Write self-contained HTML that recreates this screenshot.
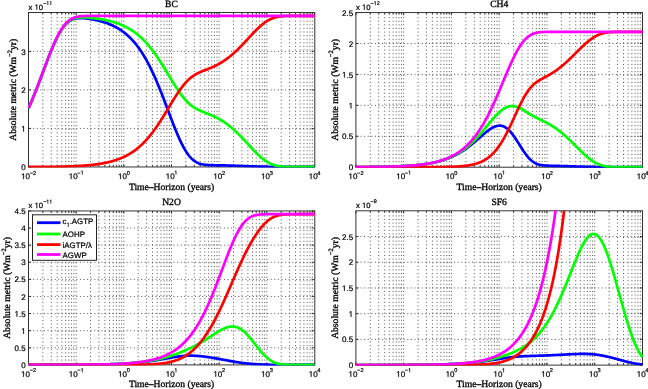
<!DOCTYPE html>
<html><head><meta charset="utf-8"><style>html,body{margin:0;padding:0;background:#fff;}svg{display:block}</style></head>
<body><svg width="648" height="389" viewBox="0 0 648 389" style="text-rendering:geometricPrecision;will-change:transform"><rect width="648" height="389" fill="#fff"/>
<g stroke="#444" stroke-width="0.9" stroke-dasharray="1 2.6"><line x1="42.85" y1="13.50" x2="42.85" y2="165.96"/><line x1="51.24" y1="13.50" x2="51.24" y2="165.96"/><line x1="57.20" y1="13.50" x2="57.20" y2="165.96"/><line x1="61.82" y1="13.50" x2="61.82" y2="165.96"/><line x1="65.59" y1="13.50" x2="65.59" y2="165.96"/><line x1="68.78" y1="13.50" x2="68.78" y2="165.96"/><line x1="71.55" y1="13.50" x2="71.55" y2="165.96"/><line x1="73.99" y1="13.50" x2="73.99" y2="165.96"/><line x1="76.17" y1="13.50" x2="76.17" y2="165.96"/><line x1="90.52" y1="13.50" x2="90.52" y2="165.96"/><line x1="98.91" y1="13.50" x2="98.91" y2="165.96"/><line x1="104.86" y1="13.50" x2="104.86" y2="165.96"/><line x1="109.48" y1="13.50" x2="109.48" y2="165.96"/><line x1="113.26" y1="13.50" x2="113.26" y2="165.96"/><line x1="116.45" y1="13.50" x2="116.45" y2="165.96"/><line x1="119.21" y1="13.50" x2="119.21" y2="165.96"/><line x1="121.65" y1="13.50" x2="121.65" y2="165.96"/><line x1="123.83" y1="13.50" x2="123.83" y2="165.96"/><line x1="138.18" y1="13.50" x2="138.18" y2="165.96"/><line x1="146.58" y1="13.50" x2="146.58" y2="165.96"/><line x1="152.53" y1="13.50" x2="152.53" y2="165.96"/><line x1="157.15" y1="13.50" x2="157.15" y2="165.96"/><line x1="160.93" y1="13.50" x2="160.93" y2="165.96"/><line x1="164.12" y1="13.50" x2="164.12" y2="165.96"/><line x1="166.88" y1="13.50" x2="166.88" y2="165.96"/><line x1="169.32" y1="13.50" x2="169.32" y2="165.96"/><line x1="171.50" y1="13.50" x2="171.50" y2="165.96"/><line x1="185.85" y1="13.50" x2="185.85" y2="165.96"/><line x1="194.24" y1="13.50" x2="194.24" y2="165.96"/><line x1="200.20" y1="13.50" x2="200.20" y2="165.96"/><line x1="204.82" y1="13.50" x2="204.82" y2="165.96"/><line x1="208.59" y1="13.50" x2="208.59" y2="165.96"/><line x1="211.78" y1="13.50" x2="211.78" y2="165.96"/><line x1="214.55" y1="13.50" x2="214.55" y2="165.96"/><line x1="216.99" y1="13.50" x2="216.99" y2="165.96"/><line x1="219.17" y1="13.50" x2="219.17" y2="165.96"/><line x1="233.52" y1="13.50" x2="233.52" y2="165.96"/><line x1="241.91" y1="13.50" x2="241.91" y2="165.96"/><line x1="247.86" y1="13.50" x2="247.86" y2="165.96"/><line x1="252.48" y1="13.50" x2="252.48" y2="165.96"/><line x1="256.26" y1="13.50" x2="256.26" y2="165.96"/><line x1="259.45" y1="13.50" x2="259.45" y2="165.96"/><line x1="262.21" y1="13.50" x2="262.21" y2="165.96"/><line x1="264.65" y1="13.50" x2="264.65" y2="165.96"/><line x1="266.83" y1="13.50" x2="266.83" y2="165.96"/><line x1="281.18" y1="13.50" x2="281.18" y2="165.96"/><line x1="289.58" y1="13.50" x2="289.58" y2="165.96"/><line x1="295.53" y1="13.50" x2="295.53" y2="165.96"/><line x1="300.15" y1="13.50" x2="300.15" y2="165.96"/><line x1="303.93" y1="13.50" x2="303.93" y2="165.96"/><line x1="307.12" y1="13.50" x2="307.12" y2="165.96"/><line x1="309.88" y1="13.50" x2="309.88" y2="165.96"/><line x1="312.32" y1="13.50" x2="312.32" y2="165.96"/><line x1="29.50" y1="128.44" x2="313.50" y2="128.44"/><line x1="29.50" y1="89.92" x2="313.50" y2="89.92"/><line x1="29.50" y1="51.40" x2="313.50" y2="51.40"/></g>
<path d="M28.50 166.96v-2.6M28.50 12.50v2.6M42.85 166.96v-1.6M42.85 12.50v1.6M51.24 166.96v-1.6M51.24 12.50v1.6M57.20 166.96v-1.6M57.20 12.50v1.6M61.82 166.96v-1.6M61.82 12.50v1.6M65.59 166.96v-1.6M65.59 12.50v1.6M68.78 166.96v-1.6M68.78 12.50v1.6M71.55 166.96v-1.6M71.55 12.50v1.6M73.99 166.96v-1.6M73.99 12.50v1.6M76.17 166.96v-2.6M76.17 12.50v2.6M90.52 166.96v-1.6M90.52 12.50v1.6M98.91 166.96v-1.6M98.91 12.50v1.6M104.86 166.96v-1.6M104.86 12.50v1.6M109.48 166.96v-1.6M109.48 12.50v1.6M113.26 166.96v-1.6M113.26 12.50v1.6M116.45 166.96v-1.6M116.45 12.50v1.6M119.21 166.96v-1.6M119.21 12.50v1.6M121.65 166.96v-1.6M121.65 12.50v1.6M123.83 166.96v-2.6M123.83 12.50v2.6M138.18 166.96v-1.6M138.18 12.50v1.6M146.58 166.96v-1.6M146.58 12.50v1.6M152.53 166.96v-1.6M152.53 12.50v1.6M157.15 166.96v-1.6M157.15 12.50v1.6M160.93 166.96v-1.6M160.93 12.50v1.6M164.12 166.96v-1.6M164.12 12.50v1.6M166.88 166.96v-1.6M166.88 12.50v1.6M169.32 166.96v-1.6M169.32 12.50v1.6M171.50 166.96v-2.6M171.50 12.50v2.6M185.85 166.96v-1.6M185.85 12.50v1.6M194.24 166.96v-1.6M194.24 12.50v1.6M200.20 166.96v-1.6M200.20 12.50v1.6M204.82 166.96v-1.6M204.82 12.50v1.6M208.59 166.96v-1.6M208.59 12.50v1.6M211.78 166.96v-1.6M211.78 12.50v1.6M214.55 166.96v-1.6M214.55 12.50v1.6M216.99 166.96v-1.6M216.99 12.50v1.6M219.17 166.96v-2.6M219.17 12.50v2.6M233.52 166.96v-1.6M233.52 12.50v1.6M241.91 166.96v-1.6M241.91 12.50v1.6M247.86 166.96v-1.6M247.86 12.50v1.6M252.48 166.96v-1.6M252.48 12.50v1.6M256.26 166.96v-1.6M256.26 12.50v1.6M259.45 166.96v-1.6M259.45 12.50v1.6M262.21 166.96v-1.6M262.21 12.50v1.6M264.65 166.96v-1.6M264.65 12.50v1.6M266.83 166.96v-2.6M266.83 12.50v2.6M281.18 166.96v-1.6M281.18 12.50v1.6M289.58 166.96v-1.6M289.58 12.50v1.6M295.53 166.96v-1.6M295.53 12.50v1.6M300.15 166.96v-1.6M300.15 12.50v1.6M303.93 166.96v-1.6M303.93 12.50v1.6M307.12 166.96v-1.6M307.12 12.50v1.6M309.88 166.96v-1.6M309.88 12.50v1.6M312.32 166.96v-1.6M312.32 12.50v1.6M314.50 166.96v-2.6M314.50 12.50v2.6M28.50 166.96h2.6M314.50 166.96h-2.6M28.50 128.44h2.6M314.50 128.44h-2.6M28.50 89.92h2.6M314.50 89.92h-2.6M28.50 51.40h2.6M314.50 51.40h-2.6" stroke="#222" stroke-width="0.9" fill="none"/>
<rect x="28.50" y="12.50" width="286.30" height="154.46" fill="none" stroke="#333" stroke-width="1"/>
<svg x="28.00" y="12.30" width="287.00" height="155.16" viewBox="28.00 12.30 287.00 155.16" overflow="hidden">
<polyline points="28.50,108.24 29.22,106.66 29.93,105.04 30.65,103.41 31.37,101.74 32.08,100.05 32.80,98.34 33.52,96.60 34.23,94.84 34.95,93.06 35.67,91.26 36.38,89.44 37.10,87.60 37.82,85.74 38.54,83.88 39.25,82.00 39.97,80.10 40.69,78.20 41.40,76.29 42.12,74.38 42.84,72.47 43.55,70.55 44.27,68.64 44.99,66.72 45.70,64.82 46.42,62.93 47.14,61.04 47.85,59.17 48.57,57.32 49.29,55.49 50.00,53.68 50.72,51.90 51.44,50.14 52.15,48.42 52.87,46.72 53.59,45.07 54.30,43.45 55.02,41.87 55.74,40.34 56.45,38.85 57.17,37.40 57.89,36.01 58.61,34.67 59.32,33.38 60.04,32.14 60.76,30.96 61.47,29.84 62.19,28.77 62.91,27.76 63.62,26.80 64.34,25.90 65.06,25.06 65.77,24.28 66.49,23.55 67.21,22.88 67.92,22.26 68.64,21.69 69.36,21.17 70.07,20.70 70.79,20.28 71.51,19.90 72.22,19.57 72.94,19.28 73.66,19.02 74.37,18.80 75.09,18.61 75.81,18.46 76.53,18.33 77.24,18.23 77.96,18.15 78.68,18.10 79.39,18.07 80.11,18.05 80.83,18.05 81.54,18.07 82.26,18.10 82.98,18.14 83.69,18.19 84.41,18.25 85.13,18.32 85.84,18.39 86.56,18.48 87.28,18.57 87.99,18.66 88.71,18.77 89.43,18.87 90.14,18.99 90.86,19.10 91.58,19.23 92.29,19.35 93.01,19.49 93.73,19.62 94.44,19.76 95.16,19.91 95.88,20.06 96.60,20.22 97.31,20.38 98.03,20.55 98.75,20.72 99.46,20.90 100.18,21.09 100.90,21.28 101.61,21.48 102.33,21.69 103.05,21.90 103.76,22.12 104.48,22.35 105.20,22.58 105.91,22.82 106.63,23.07 107.35,23.33 108.06,23.60 108.78,23.88 109.50,24.16 110.21,24.46 110.93,24.76 111.65,25.08 112.36,25.40 113.08,25.74 113.80,26.09 114.52,26.44 115.23,26.81 115.95,27.19 116.67,27.59 117.38,28.00 118.10,28.42 118.82,28.85 119.53,29.30 120.25,29.76 120.97,30.23 121.68,30.72 122.40,31.23 123.12,31.75 123.83,32.29 124.55,32.85 125.27,33.42 125.98,34.01 126.70,34.62 127.42,35.24 128.13,35.89 128.85,36.55 129.57,37.24 130.28,37.94 131.00,38.67 131.72,39.41 132.43,40.18 133.15,40.97 133.87,41.78 134.59,42.62 135.30,43.48 136.02,44.36 136.74,45.27 137.45,46.20 138.17,47.16 138.89,48.14 139.60,49.15 140.32,50.19 141.04,51.25 141.75,52.34 142.47,53.46 143.19,54.60 143.90,55.77 144.62,56.97 145.34,58.20 146.05,59.46 146.77,60.75 147.49,62.06 148.20,63.41 148.92,64.78 149.64,66.18 150.35,67.61 151.07,69.07 151.79,70.56 152.51,72.07 153.22,73.62 153.94,75.19 154.66,76.78 155.37,78.41 156.09,80.06 156.81,81.73 157.52,83.43 158.24,85.15 158.96,86.90 159.67,88.66 160.39,90.45 161.11,92.25 161.82,94.08 162.54,95.91 163.26,97.77 163.97,99.63 164.69,101.51 165.41,103.40 166.12,105.29 166.84,107.19 167.56,109.09 168.27,111.00 168.99,112.90 169.71,114.80 170.42,116.69 171.14,118.58 171.86,120.45 172.58,122.31 173.29,124.16 174.01,125.98 174.73,127.78 175.44,129.56 176.16,131.32 176.88,133.04 177.59,134.73 178.31,136.39 179.03,138.01 179.74,139.59 180.46,141.12 181.18,142.62 181.89,144.07 182.61,145.47 183.33,146.82 184.04,148.12 184.76,149.37 185.48,150.57 186.19,151.71 186.91,152.80 187.63,153.84 188.34,154.81 189.06,155.74 189.78,156.61 190.49,157.42 191.21,158.18 191.93,158.89 192.65,159.54 193.36,160.15 194.08,160.71 194.80,161.22 195.51,161.69 196.23,162.11 196.95,162.50 197.66,162.84 198.38,163.15 199.10,163.43 199.81,163.68 200.53,163.90 201.25,164.09 201.96,164.26 202.68,164.40 203.40,164.53 204.11,164.64 204.83,164.73 205.55,164.82 206.26,164.88 206.98,164.94 207.70,164.99 208.41,165.04 209.13,165.07 209.85,165.11 210.57,165.13 211.28,165.16 212.00,165.18 212.72,165.20 213.43,165.22 214.15,165.23 214.87,165.25 215.58,165.26 216.30,165.28 217.02,165.29 217.73,165.30 218.45,165.32 219.17,165.33 219.88,165.35 220.60,165.36 221.32,165.37 222.03,165.39 222.75,165.41 223.47,165.42 224.18,165.44 224.90,165.45 225.62,165.47 226.33,165.49 227.05,165.51 227.77,165.52 228.48,165.54 229.20,165.56 229.92,165.58 230.64,165.60 231.35,165.62 232.07,165.64 232.79,165.66 233.50,165.68 234.22,165.71 234.94,165.73 235.65,165.75 236.37,165.77 237.09,165.80 237.80,165.82 238.52,165.84 239.24,165.87 239.95,165.89 240.67,165.92 241.39,165.94 242.10,165.97 242.82,165.99 243.54,166.02 244.25,166.05 244.97,166.07 245.69,166.10 246.40,166.12 247.12,166.15 247.84,166.18 248.56,166.20 249.27,166.23 249.99,166.26 250.71,166.28 251.42,166.31 252.14,166.33 252.86,166.36 253.57,166.39 254.29,166.41 255.01,166.44 255.72,166.46 256.44,166.49 257.16,166.51 257.87,166.53 258.59,166.56 259.31,166.58 260.02,166.60 260.74,166.62 261.46,166.64 262.17,166.66 262.89,166.68 263.61,166.70 264.32,166.72 265.04,166.74 265.76,166.76 266.47,166.77 267.19,166.79 267.91,166.80 268.63,166.82 269.34,166.83 270.06,166.84 270.78,166.85 271.49,166.86 272.21,166.87 272.93,166.88 273.64,166.89 274.36,166.90 275.08,166.91 275.79,166.91 276.51,166.92 277.23,166.92 277.94,166.93 278.66,166.93 279.38,166.94 280.09,166.94 280.81,166.94 281.53,166.95 282.24,166.95 282.96,166.95 283.68,166.95 284.39,166.95 285.11,166.95 285.83,166.96 286.55,166.96 287.26,166.96 287.98,166.96 288.70,166.96 289.41,166.96 290.13,166.96 290.85,166.96 291.56,166.96 292.28,166.96 293.00,166.96 293.71,166.96 294.43,166.96 295.15,166.96 295.86,166.96 296.58,166.96 297.30,166.96 298.01,166.96 298.73,166.96 299.45,166.96 300.16,166.96 300.88,166.96 301.60,166.96 302.31,166.96 303.03,166.96 303.75,166.96 304.46,166.96 305.18,166.96 305.90,166.96 306.62,166.96 307.33,166.96 308.05,166.96 308.77,166.96 309.48,166.96 310.20,166.96 310.92,166.96 311.63,166.96 312.35,166.96 313.07,166.96 313.78,166.96 314.50,166.96" fill="none" stroke="#0000ff" stroke-width="2.7" stroke-linejoin="round"/>
<polyline points="28.50,108.23 29.22,106.64 29.93,105.03 30.65,103.39 31.37,101.72 32.08,100.03 32.80,98.32 33.52,96.58 34.23,94.81 34.95,93.03 35.67,91.23 36.38,89.41 37.10,87.57 37.82,85.71 38.54,83.84 39.25,81.96 39.97,80.06 40.69,78.16 41.40,76.25 42.12,74.33 42.84,72.42 43.55,70.50 44.27,68.58 44.99,66.66 45.70,64.76 46.42,62.86 47.14,60.97 47.85,59.10 48.57,57.24 49.29,55.41 50.00,53.59 50.72,51.80 51.44,50.04 52.15,48.31 52.87,46.61 53.59,44.95 54.30,43.32 55.02,41.74 55.74,40.20 56.45,38.70 57.17,37.25 57.89,35.85 58.61,34.50 59.32,33.20 60.04,31.95 60.76,30.76 61.47,29.63 62.19,28.55 62.91,27.52 63.62,26.56 64.34,25.65 65.06,24.79 65.77,24.00 66.49,23.25 67.21,22.57 67.92,21.93 68.64,21.35 69.36,20.81 70.07,20.33 70.79,19.89 71.51,19.49 72.22,19.14 72.94,18.83 73.66,18.55 74.37,18.31 75.09,18.10 75.81,17.92 76.53,17.77 77.24,17.65 77.96,17.55 78.68,17.47 79.39,17.41 80.11,17.36 80.83,17.33 81.54,17.32 82.26,17.32 82.98,17.32 83.69,17.34 84.41,17.37 85.13,17.40 85.84,17.44 86.56,17.49 87.28,17.54 87.99,17.60 88.71,17.66 89.43,17.72 90.14,17.79 90.86,17.86 91.58,17.93 92.29,18.01 93.01,18.09 93.73,18.17 94.44,18.26 95.16,18.35 95.88,18.44 96.60,18.54 97.31,18.64 98.03,18.74 98.75,18.85 99.46,18.96 100.18,19.07 100.90,19.19 101.61,19.31 102.33,19.44 103.05,19.57 103.76,19.70 104.48,19.84 105.20,19.98 105.91,20.13 106.63,20.28 107.35,20.44 108.06,20.61 108.78,20.78 109.50,20.95 110.21,21.13 110.93,21.32 111.65,21.51 112.36,21.71 113.08,21.92 113.80,22.13 114.52,22.35 115.23,22.57 115.95,22.81 116.67,23.05 117.38,23.30 118.10,23.56 118.82,23.82 119.53,24.10 120.25,24.38 120.97,24.67 121.68,24.97 122.40,25.28 123.12,25.60 123.83,25.93 124.55,26.27 125.27,26.62 125.98,26.98 126.70,27.36 127.42,27.74 128.13,28.14 128.85,28.54 129.57,28.96 130.28,29.39 131.00,29.84 131.72,30.30 132.43,30.77 133.15,31.25 133.87,31.75 134.59,32.26 135.30,32.79 136.02,33.33 136.74,33.89 137.45,34.46 138.17,35.05 138.89,35.65 139.60,36.27 140.32,36.91 141.04,37.56 141.75,38.23 142.47,38.92 143.19,39.62 143.90,40.34 144.62,41.08 145.34,41.84 146.05,42.61 146.77,43.40 147.49,44.21 148.20,45.04 148.92,45.88 149.64,46.75 150.35,47.63 151.07,48.53 151.79,49.44 152.51,50.38 153.22,51.33 153.94,52.30 154.66,53.28 155.37,54.29 156.09,55.31 156.81,56.34 157.52,57.39 158.24,58.46 158.96,59.54 159.67,60.63 160.39,61.74 161.11,62.86 161.82,63.99 162.54,65.13 163.26,66.28 163.97,67.44 164.69,68.61 165.41,69.78 166.12,70.96 166.84,72.15 167.56,73.34 168.27,74.53 168.99,75.72 169.71,76.91 170.42,78.10 171.14,79.29 171.86,80.47 172.58,81.64 173.29,82.81 174.01,83.96 174.73,85.11 175.44,86.24 176.16,87.36 176.88,88.46 177.59,89.55 178.31,90.61 179.03,91.66 179.74,92.68 180.46,93.69 181.18,94.67 181.89,95.62 182.61,96.55 183.33,97.45 184.04,98.32 184.76,99.17 185.48,99.98 186.19,100.77 186.91,101.52 187.63,102.25 188.34,102.95 189.06,103.61 189.78,104.25 190.49,104.86 191.21,105.44 191.93,105.99 192.65,106.52 193.36,107.02 194.08,107.49 194.80,107.95 195.51,108.37 196.23,108.78 196.95,109.17 197.66,109.54 198.38,109.90 199.10,110.24 199.81,110.56 200.53,110.88 201.25,111.18 201.96,111.48 202.68,111.77 203.40,112.05 204.11,112.34 204.83,112.61 205.55,112.89 206.26,113.17 206.98,113.44 207.70,113.72 208.41,114.01 209.13,114.29 209.85,114.58 210.57,114.88 211.28,115.18 212.00,115.49 212.72,115.81 213.43,116.14 214.15,116.47 214.87,116.81 215.58,117.16 216.30,117.52 217.02,117.89 217.73,118.27 218.45,118.66 219.17,119.06 219.88,119.47 220.60,119.89 221.32,120.33 222.03,120.77 222.75,121.22 223.47,121.69 224.18,122.17 224.90,122.65 225.62,123.15 226.33,123.67 227.05,124.19 227.77,124.72 228.48,125.27 229.20,125.83 229.92,126.40 230.64,126.98 231.35,127.58 232.07,128.18 232.79,128.80 233.50,129.43 234.22,130.07 234.94,130.72 235.65,131.38 236.37,132.05 237.09,132.74 237.80,133.43 238.52,134.13 239.24,134.84 239.95,135.56 240.67,136.29 241.39,137.03 242.10,137.77 242.82,138.52 243.54,139.28 244.25,140.04 244.97,140.81 245.69,141.58 246.40,142.35 247.12,143.13 247.84,143.91 248.56,144.69 249.27,145.47 249.99,146.24 250.71,147.02 251.42,147.79 252.14,148.56 252.86,149.32 253.57,150.08 254.29,150.82 255.01,151.56 255.72,152.29 256.44,153.01 257.16,153.72 257.87,154.42 258.59,155.10 259.31,155.76 260.02,156.41 260.74,157.05 261.46,157.66 262.17,158.26 262.89,158.84 263.61,159.39 264.32,159.93 265.04,160.45 265.76,160.94 266.47,161.41 267.19,161.86 267.91,162.29 268.63,162.69 269.34,163.08 270.06,163.44 270.78,163.77 271.49,164.09 272.21,164.38 272.93,164.65 273.64,164.91 274.36,165.14 275.08,165.35 275.79,165.54 276.51,165.72 277.23,165.88 277.94,166.02 278.66,166.15 279.38,166.26 280.09,166.37 280.81,166.46 281.53,166.53 282.24,166.60 282.96,166.66 283.68,166.71 284.39,166.76 285.11,166.79 285.83,166.82 286.55,166.85 287.26,166.87 287.98,166.89 288.70,166.91 289.41,166.92 290.13,166.93 290.85,166.93 291.56,166.94 292.28,166.95 293.00,166.95 293.71,166.95 294.43,166.95 295.15,166.96 295.86,166.96 296.58,166.96 297.30,166.96 298.01,166.96 298.73,166.96 299.45,166.96 300.16,166.96 300.88,166.96 301.60,166.96 302.31,166.96 303.03,166.96 303.75,166.96 304.46,166.96 305.18,166.96 305.90,166.96 306.62,166.96 307.33,166.96 308.05,166.96 308.77,166.96 309.48,166.96 310.20,166.96 310.92,166.96 311.63,166.96 312.35,166.96 313.07,166.96 313.78,166.96 314.50,166.96" fill="none" stroke="#00ff00" stroke-width="2.7" stroke-linejoin="round"/>
<polyline points="28.50,166.94 29.22,166.94 29.93,166.93 30.65,166.93 31.37,166.93 32.08,166.93 32.80,166.93 33.52,166.92 34.23,166.92 34.95,166.92 35.67,166.92 36.38,166.91 37.10,166.91 37.82,166.91 38.54,166.91 39.25,166.90 39.97,166.90 40.69,166.89 41.40,166.89 42.12,166.89 42.84,166.88 43.55,166.88 44.27,166.87 44.99,166.87 45.70,166.86 46.42,166.85 47.14,166.85 47.85,166.84 48.57,166.83 49.29,166.83 50.00,166.82 50.72,166.81 51.44,166.80 52.15,166.79 52.87,166.78 53.59,166.77 54.30,166.76 55.02,166.75 55.74,166.74 56.45,166.73 57.17,166.72 57.89,166.70 58.61,166.69 59.32,166.68 60.04,166.66 60.76,166.64 61.47,166.63 62.19,166.61 62.91,166.59 63.62,166.57 64.34,166.55 65.06,166.53 65.77,166.51 66.49,166.49 67.21,166.47 67.92,166.44 68.64,166.42 69.36,166.39 70.07,166.37 70.79,166.34 71.51,166.31 72.22,166.28 72.94,166.25 73.66,166.22 74.37,166.19 75.09,166.15 75.81,166.12 76.53,166.08 77.24,166.04 77.96,166.00 78.68,165.96 79.39,165.92 80.11,165.87 80.83,165.83 81.54,165.78 82.26,165.73 82.98,165.68 83.69,165.63 84.41,165.57 85.13,165.52 85.84,165.46 86.56,165.40 87.28,165.34 87.99,165.27 88.71,165.21 89.43,165.14 90.14,165.07 90.86,164.99 91.58,164.92 92.29,164.84 93.01,164.76 93.73,164.67 94.44,164.59 95.16,164.50 95.88,164.40 96.60,164.31 97.31,164.21 98.03,164.10 98.75,164.00 99.46,163.89 100.18,163.77 100.90,163.66 101.61,163.53 102.33,163.41 103.05,163.28 103.76,163.14 104.48,163.01 105.20,162.86 105.91,162.71 106.63,162.56 107.35,162.40 108.06,162.24 108.78,162.07 109.50,161.89 110.21,161.71 110.93,161.53 111.65,161.33 112.36,161.13 113.08,160.93 113.80,160.72 114.52,160.50 115.23,160.27 115.95,160.04 116.67,159.79 117.38,159.55 118.10,159.29 118.82,159.02 119.53,158.75 120.25,158.47 120.97,158.17 121.68,157.87 122.40,157.56 123.12,157.24 123.83,156.91 124.55,156.57 125.27,156.22 125.98,155.86 126.70,155.49 127.42,155.10 128.13,154.71 128.85,154.30 129.57,153.88 130.28,153.45 131.00,153.01 131.72,152.55 132.43,152.08 133.15,151.59 133.87,151.09 134.59,150.58 135.30,150.05 136.02,149.51 136.74,148.95 137.45,148.38 138.17,147.79 138.89,147.19 139.60,146.57 140.32,145.93 141.04,145.28 141.75,144.61 142.47,143.93 143.19,143.22 143.90,142.50 144.62,141.76 145.34,141.01 146.05,140.23 146.77,139.44 147.49,138.63 148.20,137.81 148.92,136.96 149.64,136.10 150.35,135.22 151.07,134.32 151.79,133.40 152.51,132.47 153.22,131.52 153.94,130.55 154.66,129.56 155.37,128.56 156.09,127.54 156.81,126.50 157.52,125.45 158.24,124.39 158.96,123.31 159.67,122.22 160.39,121.11 161.11,119.99 161.82,118.86 162.54,117.72 163.26,116.57 163.97,115.41 164.69,114.24 165.41,113.06 166.12,111.88 166.84,110.70 167.56,109.51 168.27,108.32 168.99,107.12 169.71,105.93 170.42,104.74 171.14,103.56 171.86,102.38 172.58,101.20 173.29,100.04 174.01,98.88 174.73,97.74 175.44,96.60 176.16,95.49 176.88,94.38 177.59,93.30 178.31,92.23 179.03,91.19 179.74,90.16 180.46,89.16 181.18,88.18 181.89,87.22 182.61,86.30 183.33,85.40 184.04,84.52 184.76,83.68 185.48,82.86 186.19,82.08 186.91,81.32 187.63,80.59 188.34,79.90 189.06,79.23 189.78,78.59 190.49,77.98 191.21,77.40 191.93,76.85 192.65,76.33 193.36,75.83 194.08,75.35 194.80,74.90 195.51,74.47 196.23,74.06 196.95,73.67 197.66,73.30 198.38,72.95 199.10,72.61 199.81,72.28 200.53,71.97 201.25,71.66 201.96,71.36 202.68,71.07 203.40,70.79 204.11,70.51 204.83,70.23 205.55,69.95 206.26,69.68 206.98,69.40 207.70,69.12 208.41,68.84 209.13,68.55 209.85,68.26 210.57,67.96 211.28,67.66 212.00,67.35 212.72,67.03 213.43,66.71 214.15,66.37 214.87,66.03 215.58,65.68 216.30,65.32 217.02,64.95 217.73,64.57 218.45,64.18 219.17,63.78 219.88,63.37 220.60,62.95 221.32,62.52 222.03,62.08 222.75,61.62 223.47,61.16 224.18,60.68 224.90,60.19 225.62,59.69 226.33,59.18 227.05,58.66 227.77,58.12 228.48,57.57 229.20,57.01 229.92,56.44 230.64,55.86 231.35,55.27 232.07,54.66 232.79,54.04 233.50,53.42 234.22,52.78 234.94,52.12 235.65,51.46 236.37,50.79 237.09,50.11 237.80,49.42 238.52,48.71 239.24,48.00 239.95,47.28 240.67,46.55 241.39,45.82 242.10,45.07 242.82,44.32 243.54,43.56 244.25,42.80 244.97,42.04 245.69,41.26 246.40,40.49 247.12,39.71 247.84,38.94 248.56,38.16 249.27,37.38 249.99,36.60 250.71,35.83 251.42,35.05 252.14,34.29 252.86,33.52 253.57,32.77 254.29,32.02 255.01,31.28 255.72,30.55 256.44,29.83 257.16,29.12 257.87,28.43 258.59,27.75 259.31,27.08 260.02,26.43 260.74,25.80 261.46,25.18 262.17,24.59 262.89,24.01 263.61,23.45 264.32,22.91 265.04,22.40 265.76,21.90 266.47,21.43 267.19,20.98 267.91,20.55 268.63,20.15 269.34,19.77 270.06,19.41 270.78,19.07 271.49,18.76 272.21,18.46 272.93,18.19 273.64,17.94 274.36,17.71 275.08,17.50 275.79,17.30 276.51,17.13 277.23,16.97 277.94,16.82 278.66,16.69 279.38,16.58 280.09,16.48 280.81,16.39 281.53,16.31 282.24,16.24 282.96,16.18 283.68,16.13 284.39,16.09 285.11,16.05 285.83,16.02 286.55,15.99 287.26,15.97 287.98,15.95 288.70,15.94 289.41,15.93 290.13,15.92 290.85,15.91 291.56,15.90 292.28,15.90 293.00,15.90 293.71,15.89 294.43,15.89 295.15,15.89 295.86,15.89 296.58,15.89 297.30,15.89 298.01,15.89 298.73,15.89 299.45,15.89 300.16,15.88 300.88,15.88 301.60,15.88 302.31,15.88 303.03,15.88 303.75,15.88 304.46,15.88 305.18,15.88 305.90,15.88 306.62,15.88 307.33,15.88 308.05,15.88 308.77,15.88 309.48,15.88 310.20,15.88 310.92,15.88 311.63,15.88 312.35,15.88 313.07,15.88 313.78,15.88 314.50,15.88" fill="none" stroke="#ff0000" stroke-width="2.7" stroke-linejoin="round"/>
<polyline points="28.50,108.21 29.22,106.62 29.93,105.00 30.65,103.36 31.37,101.69 32.08,100.00 32.80,98.28 33.52,96.54 34.23,94.78 34.95,92.99 35.67,91.19 36.38,89.36 37.10,87.52 37.82,85.66 38.54,83.79 39.25,81.90 39.97,80.00 40.69,78.10 41.40,76.18 42.12,74.26 42.84,72.34 43.55,70.41 44.27,68.49 44.99,66.57 45.70,64.66 46.42,62.75 47.14,60.86 47.85,58.98 48.57,57.12 49.29,55.27 50.00,53.45 50.72,51.65 51.44,49.88 52.15,48.14 52.87,46.43 53.59,44.76 54.30,43.13 55.02,41.53 55.74,39.98 56.45,38.47 57.17,37.01 57.89,35.59 58.61,34.23 59.32,32.91 60.04,31.65 60.76,30.45 61.47,29.29 62.19,28.20 62.91,27.16 63.62,26.17 64.34,25.24 65.06,24.37 65.77,23.55 66.49,22.79 67.21,22.08 67.92,21.42 68.64,20.81 69.36,20.25 70.07,19.74 70.79,19.27 71.51,18.84 72.22,18.46 72.94,18.12 73.66,17.81 74.37,17.54 75.09,17.29 75.81,17.08 76.53,16.89 77.24,16.73 77.96,16.59 78.68,16.47 79.39,16.36 80.11,16.28 80.83,16.20 81.54,16.14 82.26,16.09 82.98,16.05 83.69,16.01 84.41,15.98 85.13,15.96 85.84,15.94 86.56,15.93 87.28,15.92 87.99,15.91 88.71,15.90 89.43,15.90 90.14,15.89 90.86,15.89 91.58,15.89 92.29,15.89 93.01,15.89 93.73,15.89 94.44,15.89 95.16,15.89 95.88,15.88 96.60,15.88 97.31,15.88 98.03,15.88 98.75,15.88 99.46,15.88 100.18,15.88 100.90,15.88 101.61,15.88 102.33,15.88 103.05,15.88 103.76,15.88 104.48,15.88 105.20,15.88 105.91,15.88 106.63,15.88 107.35,15.88 108.06,15.88 108.78,15.88 109.50,15.88 110.21,15.88 110.93,15.88 111.65,15.88 112.36,15.88 113.08,15.88 113.80,15.88 114.52,15.88 115.23,15.88 115.95,15.88 116.67,15.88 117.38,15.88 118.10,15.88 118.82,15.88 119.53,15.88 120.25,15.88 120.97,15.88 121.68,15.88 122.40,15.88 123.12,15.88 123.83,15.88 124.55,15.88 125.27,15.88 125.98,15.88 126.70,15.88 127.42,15.88 128.13,15.88 128.85,15.88 129.57,15.88 130.28,15.88 131.00,15.88 131.72,15.88 132.43,15.88 133.15,15.88 133.87,15.88 134.59,15.88 135.30,15.88 136.02,15.88 136.74,15.88 137.45,15.88 138.17,15.88 138.89,15.88 139.60,15.88 140.32,15.88 141.04,15.88 141.75,15.88 142.47,15.88 143.19,15.88 143.90,15.88 144.62,15.88 145.34,15.88 146.05,15.88 146.77,15.88 147.49,15.88 148.20,15.88 148.92,15.88 149.64,15.88 150.35,15.88 151.07,15.88 151.79,15.88 152.51,15.88 153.22,15.88 153.94,15.88 154.66,15.88 155.37,15.88 156.09,15.88 156.81,15.88 157.52,15.88 158.24,15.88 158.96,15.88 159.67,15.88 160.39,15.88 161.11,15.88 161.82,15.88 162.54,15.88 163.26,15.88 163.97,15.88 164.69,15.88 165.41,15.88 166.12,15.88 166.84,15.88 167.56,15.88 168.27,15.88 168.99,15.88 169.71,15.88 170.42,15.88 171.14,15.88 171.86,15.88 172.58,15.88 173.29,15.88 174.01,15.88 174.73,15.88 175.44,15.88 176.16,15.88 176.88,15.88 177.59,15.88 178.31,15.88 179.03,15.88 179.74,15.88 180.46,15.88 181.18,15.88 181.89,15.88 182.61,15.88 183.33,15.88 184.04,15.88 184.76,15.88 185.48,15.88 186.19,15.88 186.91,15.88 187.63,15.88 188.34,15.88 189.06,15.88 189.78,15.88 190.49,15.88 191.21,15.88 191.93,15.88 192.65,15.88 193.36,15.88 194.08,15.88 194.80,15.88 195.51,15.88 196.23,15.88 196.95,15.88 197.66,15.88 198.38,15.88 199.10,15.88 199.81,15.88 200.53,15.88 201.25,15.88 201.96,15.88 202.68,15.88 203.40,15.88 204.11,15.88 204.83,15.88 205.55,15.88 206.26,15.88 206.98,15.88 207.70,15.88 208.41,15.88 209.13,15.88 209.85,15.88 210.57,15.88 211.28,15.88 212.00,15.88 212.72,15.88 213.43,15.88 214.15,15.88 214.87,15.88 215.58,15.88 216.30,15.88 217.02,15.88 217.73,15.88 218.45,15.88 219.17,15.88 219.88,15.88 220.60,15.88 221.32,15.88 222.03,15.88 222.75,15.88 223.47,15.88 224.18,15.88 224.90,15.88 225.62,15.88 226.33,15.88 227.05,15.88 227.77,15.88 228.48,15.88 229.20,15.88 229.92,15.88 230.64,15.88 231.35,15.88 232.07,15.88 232.79,15.88 233.50,15.88 234.22,15.88 234.94,15.88 235.65,15.88 236.37,15.88 237.09,15.88 237.80,15.88 238.52,15.88 239.24,15.88 239.95,15.88 240.67,15.88 241.39,15.88 242.10,15.88 242.82,15.88 243.54,15.88 244.25,15.88 244.97,15.88 245.69,15.88 246.40,15.88 247.12,15.88 247.84,15.88 248.56,15.88 249.27,15.88 249.99,15.88 250.71,15.88 251.42,15.88 252.14,15.88 252.86,15.88 253.57,15.88 254.29,15.88 255.01,15.88 255.72,15.88 256.44,15.88 257.16,15.88 257.87,15.88 258.59,15.88 259.31,15.88 260.02,15.88 260.74,15.88 261.46,15.88 262.17,15.88 262.89,15.88 263.61,15.88 264.32,15.88 265.04,15.88 265.76,15.88 266.47,15.88 267.19,15.88 267.91,15.88 268.63,15.88 269.34,15.88 270.06,15.88 270.78,15.88 271.49,15.88 272.21,15.88 272.93,15.88 273.64,15.88 274.36,15.88 275.08,15.88 275.79,15.88 276.51,15.88 277.23,15.88 277.94,15.88 278.66,15.88 279.38,15.88 280.09,15.88 280.81,15.88 281.53,15.88 282.24,15.88 282.96,15.88 283.68,15.88 284.39,15.88 285.11,15.88 285.83,15.88 286.55,15.88 287.26,15.88 287.98,15.88 288.70,15.88 289.41,15.88 290.13,15.88 290.85,15.88 291.56,15.88 292.28,15.88 293.00,15.88 293.71,15.88 294.43,15.88 295.15,15.88 295.86,15.88 296.58,15.88 297.30,15.88 298.01,15.88 298.73,15.88 299.45,15.88 300.16,15.88 300.88,15.88 301.60,15.88 302.31,15.88 303.03,15.88 303.75,15.88 304.46,15.88 305.18,15.88 305.90,15.88 306.62,15.88 307.33,15.88 308.05,15.88 308.77,15.88 309.48,15.88 310.20,15.88 310.92,15.88 311.63,15.88 312.35,15.88 313.07,15.88 313.78,15.88 314.50,15.88" fill="none" stroke="#ff00ff" stroke-width="2.7" stroke-linejoin="round"/>
</svg>
<text x="21.11" y="179.10" style="font-family:&quot;Liberation Sans&quot;,sans-serif;stroke:#000;stroke-width:0.22px;font-size:8.00px"> 0</text><path transform="translate(21.11 179.10) scale(0.003906 -0.003906)" d="M515 0V1237L197 1010V1180L530 1409H696V0Z" stroke="#000" stroke-width="56.3"/><text x="29.71" y="174.50" style="font-family:&quot;Liberation Sans&quot;,sans-serif;stroke:#000;stroke-width:0.22px;font-size:5.60px">−2</text>
<text x="68.78" y="179.10" style="font-family:&quot;Liberation Sans&quot;,sans-serif;stroke:#000;stroke-width:0.22px;font-size:8.00px"> 0</text><path transform="translate(68.78 179.10) scale(0.003906 -0.003906)" d="M515 0V1237L197 1010V1180L530 1409H696V0Z" stroke="#000" stroke-width="56.3"/><text x="77.37" y="174.50" style="font-family:&quot;Liberation Sans&quot;,sans-serif;stroke:#000;stroke-width:0.22px;font-size:5.60px">− </text><path transform="translate(80.64 174.50) scale(0.002734 -0.002734)" d="M515 0V1237L197 1010V1180L530 1409H696V0Z" stroke="#000" stroke-width="80.5"/>
<text x="118.08" y="179.10" style="font-family:&quot;Liberation Sans&quot;,sans-serif;stroke:#000;stroke-width:0.22px;font-size:8.00px"> 0</text><path transform="translate(118.08 179.10) scale(0.003906 -0.003906)" d="M515 0V1237L197 1010V1180L530 1409H696V0Z" stroke="#000" stroke-width="56.3"/><text x="126.68" y="174.50" style="font-family:&quot;Liberation Sans&quot;,sans-serif;stroke:#000;stroke-width:0.22px;font-size:5.60px">0</text>
<text x="165.74" y="179.10" style="font-family:&quot;Liberation Sans&quot;,sans-serif;stroke:#000;stroke-width:0.22px;font-size:8.00px"> 0</text><path transform="translate(165.74 179.10) scale(0.003906 -0.003906)" d="M515 0V1237L197 1010V1180L530 1409H696V0Z" stroke="#000" stroke-width="56.3"/><path transform="translate(174.34 174.50) scale(0.002734 -0.002734)" d="M515 0V1237L197 1010V1180L530 1409H696V0Z" stroke="#000" stroke-width="80.5"/>
<text x="213.41" y="179.10" style="font-family:&quot;Liberation Sans&quot;,sans-serif;stroke:#000;stroke-width:0.22px;font-size:8.00px"> 0</text><path transform="translate(213.41 179.10) scale(0.003906 -0.003906)" d="M515 0V1237L197 1010V1180L530 1409H696V0Z" stroke="#000" stroke-width="56.3"/><text x="222.01" y="174.50" style="font-family:&quot;Liberation Sans&quot;,sans-serif;stroke:#000;stroke-width:0.22px;font-size:5.60px">2</text>
<text x="261.08" y="179.10" style="font-family:&quot;Liberation Sans&quot;,sans-serif;stroke:#000;stroke-width:0.22px;font-size:8.00px"> 0</text><path transform="translate(261.08 179.10) scale(0.003906 -0.003906)" d="M515 0V1237L197 1010V1180L530 1409H696V0Z" stroke="#000" stroke-width="56.3"/><text x="269.68" y="174.50" style="font-family:&quot;Liberation Sans&quot;,sans-serif;stroke:#000;stroke-width:0.22px;font-size:5.60px">3</text>
<text x="308.74" y="179.10" style="font-family:&quot;Liberation Sans&quot;,sans-serif;stroke:#000;stroke-width:0.22px;font-size:8.00px"> 0</text><path transform="translate(308.74 179.10) scale(0.003906 -0.003906)" d="M515 0V1237L197 1010V1180L530 1409H696V0Z" stroke="#000" stroke-width="56.3"/><text x="317.34" y="174.50" style="font-family:&quot;Liberation Sans&quot;,sans-serif;stroke:#000;stroke-width:0.22px;font-size:5.60px">4</text>
<text x="21.25" y="170.06" style="font-family:&quot;Liberation Sans&quot;,sans-serif;stroke:#000;stroke-width:0.22px;font-size:8.00px">0</text>
<path transform="translate(21.25 131.54) scale(0.003906 -0.003906)" d="M515 0V1237L197 1010V1180L530 1409H696V0Z" stroke="#000" stroke-width="56.3"/>
<text x="21.25" y="93.02" style="font-family:&quot;Liberation Sans&quot;,sans-serif;stroke:#000;stroke-width:0.22px;font-size:8.00px">2</text>
<text x="21.25" y="54.50" style="font-family:&quot;Liberation Sans&quot;,sans-serif;stroke:#000;stroke-width:0.22px;font-size:8.00px">3</text>
<text x="28.60" y="9.70" style="font-family:&quot;Liberation Sans&quot;,sans-serif;stroke:#000;stroke-width:0.22px;font-size:7.70px">x  0</text><path transform="translate(34.59 9.70) scale(0.003760 -0.003760)" d="M515 0V1237L197 1010V1180L530 1409H696V0Z" stroke="#000" stroke-width="58.5"/><text x="43.15" y="5.00" style="font-family:&quot;Liberation Sans&quot;,sans-serif;stroke:#000;stroke-width:0.22px;font-size:5.40px">−  </text><path transform="translate(46.31 5.00) scale(0.002637 -0.002637)" d="M515 0V1237L197 1010V1180L530 1409H696V0Z" stroke="#000" stroke-width="83.4"/><path transform="translate(49.31 5.00) scale(0.002637 -0.002637)" d="M515 0V1237L197 1010V1180L530 1409H696V0Z" stroke="#000" stroke-width="83.4"/>
<text x="171.50" y="6.50" text-anchor="middle" style="font-family:&quot;Liberation Serif&quot;,serif;stroke:#000;stroke-width:0.32px;font-size:9.6px">BC</text>
<text x="171.50" y="189.70" text-anchor="middle" style="font-family:&quot;Liberation Serif&quot;,serif;stroke:#000;stroke-width:0.32px;font-size:9.6px">Time–Horizon (years)</text>
<text transform="translate(15.90 89.73) rotate(-90)" text-anchor="middle" style="font-family:&quot;Liberation Serif&quot;,serif;stroke:#000;stroke-width:0.32px;font-size:9.6px">Absolute metric (Wm<tspan dy="-4.1" style="font-size:6.6px">−2</tspan><tspan dy="4.1">yr)</tspan></text>
<g stroke="#444" stroke-width="0.9" stroke-dasharray="1 2.6"><line x1="370.28" y1="13.57" x2="370.28" y2="166.20"/><line x1="378.69" y1="13.57" x2="378.69" y2="166.20"/><line x1="384.66" y1="13.57" x2="384.66" y2="166.20"/><line x1="389.29" y1="13.57" x2="389.29" y2="166.20"/><line x1="393.07" y1="13.57" x2="393.07" y2="166.20"/><line x1="396.27" y1="13.57" x2="396.27" y2="166.20"/><line x1="399.04" y1="13.57" x2="399.04" y2="166.20"/><line x1="401.48" y1="13.57" x2="401.48" y2="166.20"/><line x1="403.67" y1="13.57" x2="403.67" y2="166.20"/><line x1="418.05" y1="13.57" x2="418.05" y2="166.20"/><line x1="426.46" y1="13.57" x2="426.46" y2="166.20"/><line x1="432.43" y1="13.57" x2="432.43" y2="166.20"/><line x1="437.05" y1="13.57" x2="437.05" y2="166.20"/><line x1="440.84" y1="13.57" x2="440.84" y2="166.20"/><line x1="444.03" y1="13.57" x2="444.03" y2="166.20"/><line x1="446.80" y1="13.57" x2="446.80" y2="166.20"/><line x1="449.25" y1="13.57" x2="449.25" y2="166.20"/><line x1="451.43" y1="13.57" x2="451.43" y2="166.20"/><line x1="465.81" y1="13.57" x2="465.81" y2="166.20"/><line x1="474.22" y1="13.57" x2="474.22" y2="166.20"/><line x1="480.19" y1="13.57" x2="480.19" y2="166.20"/><line x1="484.82" y1="13.57" x2="484.82" y2="166.20"/><line x1="488.60" y1="13.57" x2="488.60" y2="166.20"/><line x1="491.80" y1="13.57" x2="491.80" y2="166.20"/><line x1="494.57" y1="13.57" x2="494.57" y2="166.20"/><line x1="497.01" y1="13.57" x2="497.01" y2="166.20"/><line x1="499.20" y1="13.57" x2="499.20" y2="166.20"/><line x1="513.58" y1="13.57" x2="513.58" y2="166.20"/><line x1="521.99" y1="13.57" x2="521.99" y2="166.20"/><line x1="527.96" y1="13.57" x2="527.96" y2="166.20"/><line x1="532.59" y1="13.57" x2="532.59" y2="166.20"/><line x1="536.37" y1="13.57" x2="536.37" y2="166.20"/><line x1="539.57" y1="13.57" x2="539.57" y2="166.20"/><line x1="542.34" y1="13.57" x2="542.34" y2="166.20"/><line x1="544.78" y1="13.57" x2="544.78" y2="166.20"/><line x1="546.97" y1="13.57" x2="546.97" y2="166.20"/><line x1="561.35" y1="13.57" x2="561.35" y2="166.20"/><line x1="569.76" y1="13.57" x2="569.76" y2="166.20"/><line x1="575.73" y1="13.57" x2="575.73" y2="166.20"/><line x1="580.35" y1="13.57" x2="580.35" y2="166.20"/><line x1="584.14" y1="13.57" x2="584.14" y2="166.20"/><line x1="587.33" y1="13.57" x2="587.33" y2="166.20"/><line x1="590.10" y1="13.57" x2="590.10" y2="166.20"/><line x1="592.55" y1="13.57" x2="592.55" y2="166.20"/><line x1="594.73" y1="13.57" x2="594.73" y2="166.20"/><line x1="609.11" y1="13.57" x2="609.11" y2="166.20"/><line x1="617.52" y1="13.57" x2="617.52" y2="166.20"/><line x1="623.49" y1="13.57" x2="623.49" y2="166.20"/><line x1="628.12" y1="13.57" x2="628.12" y2="166.20"/><line x1="631.90" y1="13.57" x2="631.90" y2="166.20"/><line x1="635.10" y1="13.57" x2="635.10" y2="166.20"/><line x1="637.87" y1="13.57" x2="637.87" y2="166.20"/><line x1="640.31" y1="13.57" x2="640.31" y2="166.20"/><line x1="356.90" y1="136.27" x2="641.50" y2="136.27"/><line x1="356.90" y1="105.35" x2="641.50" y2="105.35"/><line x1="356.90" y1="74.42" x2="641.50" y2="74.42"/><line x1="356.90" y1="43.50" x2="641.50" y2="43.50"/></g>
<path d="M355.90 167.20v-2.6M355.90 12.57v2.6M370.28 167.20v-1.6M370.28 12.57v1.6M378.69 167.20v-1.6M378.69 12.57v1.6M384.66 167.20v-1.6M384.66 12.57v1.6M389.29 167.20v-1.6M389.29 12.57v1.6M393.07 167.20v-1.6M393.07 12.57v1.6M396.27 167.20v-1.6M396.27 12.57v1.6M399.04 167.20v-1.6M399.04 12.57v1.6M401.48 167.20v-1.6M401.48 12.57v1.6M403.67 167.20v-2.6M403.67 12.57v2.6M418.05 167.20v-1.6M418.05 12.57v1.6M426.46 167.20v-1.6M426.46 12.57v1.6M432.43 167.20v-1.6M432.43 12.57v1.6M437.05 167.20v-1.6M437.05 12.57v1.6M440.84 167.20v-1.6M440.84 12.57v1.6M444.03 167.20v-1.6M444.03 12.57v1.6M446.80 167.20v-1.6M446.80 12.57v1.6M449.25 167.20v-1.6M449.25 12.57v1.6M451.43 167.20v-2.6M451.43 12.57v2.6M465.81 167.20v-1.6M465.81 12.57v1.6M474.22 167.20v-1.6M474.22 12.57v1.6M480.19 167.20v-1.6M480.19 12.57v1.6M484.82 167.20v-1.6M484.82 12.57v1.6M488.60 167.20v-1.6M488.60 12.57v1.6M491.80 167.20v-1.6M491.80 12.57v1.6M494.57 167.20v-1.6M494.57 12.57v1.6M497.01 167.20v-1.6M497.01 12.57v1.6M499.20 167.20v-2.6M499.20 12.57v2.6M513.58 167.20v-1.6M513.58 12.57v1.6M521.99 167.20v-1.6M521.99 12.57v1.6M527.96 167.20v-1.6M527.96 12.57v1.6M532.59 167.20v-1.6M532.59 12.57v1.6M536.37 167.20v-1.6M536.37 12.57v1.6M539.57 167.20v-1.6M539.57 12.57v1.6M542.34 167.20v-1.6M542.34 12.57v1.6M544.78 167.20v-1.6M544.78 12.57v1.6M546.97 167.20v-2.6M546.97 12.57v2.6M561.35 167.20v-1.6M561.35 12.57v1.6M569.76 167.20v-1.6M569.76 12.57v1.6M575.73 167.20v-1.6M575.73 12.57v1.6M580.35 167.20v-1.6M580.35 12.57v1.6M584.14 167.20v-1.6M584.14 12.57v1.6M587.33 167.20v-1.6M587.33 12.57v1.6M590.10 167.20v-1.6M590.10 12.57v1.6M592.55 167.20v-1.6M592.55 12.57v1.6M594.73 167.20v-2.6M594.73 12.57v2.6M609.11 167.20v-1.6M609.11 12.57v1.6M617.52 167.20v-1.6M617.52 12.57v1.6M623.49 167.20v-1.6M623.49 12.57v1.6M628.12 167.20v-1.6M628.12 12.57v1.6M631.90 167.20v-1.6M631.90 12.57v1.6M635.10 167.20v-1.6M635.10 12.57v1.6M637.87 167.20v-1.6M637.87 12.57v1.6M640.31 167.20v-1.6M640.31 12.57v1.6M642.50 167.20v-2.6M642.50 12.57v2.6M355.90 167.20h2.6M642.50 167.20h-2.6M355.90 136.27h2.6M642.50 136.27h-2.6M355.90 105.35h2.6M642.50 105.35h-2.6M355.90 74.42h2.6M642.50 74.42h-2.6M355.90 43.50h2.6M642.50 43.50h-2.6M355.90 12.57h2.6M642.50 12.57h-2.6" stroke="#222" stroke-width="0.9" fill="none"/>
<rect x="355.90" y="12.57" width="286.60" height="154.63" fill="none" stroke="#333" stroke-width="1"/>
<svg x="355.40" y="12.37" width="287.60" height="155.33" viewBox="355.40 12.37 287.60 155.33" overflow="hidden">
<polyline points="355.90,167.09 356.62,167.08 357.34,167.08 358.05,167.08 358.77,167.07 359.49,167.07 360.21,167.06 360.93,167.06 361.65,167.05 362.36,167.05 363.08,167.04 363.80,167.04 364.52,167.03 365.24,167.02 365.96,167.02 366.67,167.01 367.39,167.01 368.11,167.00 368.83,166.99 369.55,166.98 370.27,166.98 370.98,166.97 371.70,166.96 372.42,166.95 373.14,166.94 373.86,166.93 374.58,166.93 375.29,166.92 376.01,166.91 376.73,166.90 377.45,166.88 378.17,166.87 378.89,166.86 379.60,166.85 380.32,166.84 381.04,166.82 381.76,166.81 382.48,166.80 383.20,166.78 383.91,166.77 384.63,166.75 385.35,166.74 386.07,166.72 386.79,166.71 387.51,166.69 388.22,166.67 388.94,166.65 389.66,166.63 390.38,166.61 391.10,166.59 391.81,166.57 392.53,166.55 393.25,166.53 393.97,166.50 394.69,166.48 395.41,166.45 396.12,166.43 396.84,166.40 397.56,166.37 398.28,166.34 399.00,166.31 399.72,166.28 400.43,166.25 401.15,166.22 401.87,166.18 402.59,166.15 403.31,166.11 404.03,166.07 404.74,166.03 405.46,165.99 406.18,165.95 406.90,165.91 407.62,165.86 408.34,165.81 409.05,165.77 409.77,165.72 410.49,165.66 411.21,165.61 411.93,165.56 412.65,165.50 413.36,165.44 414.08,165.38 414.80,165.32 415.52,165.25 416.24,165.18 416.96,165.11 417.67,165.04 418.39,164.97 419.11,164.89 419.83,164.81 420.55,164.73 421.26,164.64 421.98,164.56 422.70,164.46 423.42,164.37 424.14,164.27 424.86,164.17 425.57,164.07 426.29,163.96 427.01,163.85 427.73,163.74 428.45,163.62 429.17,163.50 429.88,163.37 430.60,163.24 431.32,163.11 432.04,162.97 432.76,162.83 433.48,162.68 434.19,162.53 434.91,162.37 435.63,162.21 436.35,162.04 437.07,161.87 437.79,161.69 438.50,161.51 439.22,161.32 439.94,161.12 440.66,160.92 441.38,160.71 442.10,160.50 442.81,160.28 443.53,160.05 444.25,159.82 444.97,159.58 445.69,159.33 446.41,159.07 447.12,158.81 447.84,158.54 448.56,158.26 449.28,157.97 450.00,157.68 450.72,157.37 451.43,157.06 452.15,156.74 452.87,156.41 453.59,156.08 454.31,155.73 455.02,155.37 455.74,155.01 456.46,154.63 457.18,154.25 457.90,153.85 458.62,153.45 459.33,153.04 460.05,152.61 460.77,152.18 461.49,151.73 462.21,151.28 462.93,150.82 463.64,150.34 464.36,149.86 465.08,149.37 465.80,148.86 466.52,148.35 467.24,147.83 467.95,147.29 468.67,146.75 469.39,146.20 470.11,145.64 470.83,145.08 471.55,144.50 472.26,143.92 472.98,143.33 473.70,142.73 474.42,142.13 475.14,141.52 475.86,140.90 476.57,140.28 477.29,139.66 478.01,139.04 478.73,138.41 479.45,137.78 480.17,137.16 480.88,136.53 481.60,135.91 482.32,135.29 483.04,134.67 483.76,134.06 484.47,133.46 485.19,132.86 485.91,132.28 486.63,131.71 487.35,131.15 488.07,130.61 488.78,130.09 489.50,129.59 490.22,129.10 490.94,128.64 491.66,128.21 492.38,127.80 493.09,127.42 493.81,127.07 494.53,126.76 495.25,126.48 495.97,126.24 496.69,126.03 497.40,125.87 498.12,125.76 498.84,125.69 499.56,125.66 500.28,125.68 501.00,125.76 501.71,125.88 502.43,126.06 503.15,126.29 503.87,126.58 504.59,126.92 505.31,127.32 506.02,127.77 506.74,128.28 507.46,128.85 508.18,129.47 508.90,130.14 509.62,130.87 510.33,131.65 511.05,132.47 511.77,133.34 512.49,134.26 513.21,135.21 513.93,136.21 514.64,137.24 515.36,138.30 516.08,139.38 516.80,140.49 517.52,141.61 518.23,142.75 518.95,143.90 519.67,145.04 520.39,146.19 521.11,147.33 521.83,148.46 522.54,149.57 523.26,150.67 523.98,151.73 524.70,152.77 525.42,153.78 526.14,154.75 526.85,155.68 527.57,156.56 528.29,157.41 529.01,158.21 529.73,158.96 530.45,159.66 531.16,160.31 531.88,160.92 532.60,161.48 533.32,161.99 534.04,162.46 534.76,162.88 535.47,163.26 536.19,163.60 536.91,163.90 537.63,164.17 538.35,164.40 539.07,164.61 539.78,164.79 540.50,164.94 541.22,165.07 541.94,165.19 542.66,165.28 543.38,165.36 544.09,165.43 544.81,165.49 545.53,165.54 546.25,165.59 546.97,165.62 547.68,165.65 548.40,165.68 549.12,165.71 549.84,165.73 550.56,165.75 551.28,165.77 551.99,165.79 552.71,165.80 553.43,165.82 554.15,165.84 554.87,165.86 555.59,165.87 556.30,165.89 557.02,165.91 557.74,165.93 558.46,165.95 559.18,165.96 559.90,165.98 560.61,166.00 561.33,166.02 562.05,166.04 562.77,166.06 563.49,166.08 564.21,166.11 564.92,166.13 565.64,166.15 566.36,166.17 567.08,166.19 567.80,166.22 568.52,166.24 569.23,166.26 569.95,166.28 570.67,166.31 571.39,166.33 572.11,166.36 572.83,166.38 573.54,166.40 574.26,166.43 574.98,166.45 575.70,166.48 576.42,166.50 577.14,166.53 577.85,166.55 578.57,166.57 579.29,166.60 580.01,166.62 580.73,166.65 581.44,166.67 582.16,166.69 582.88,166.72 583.60,166.74 584.32,166.76 585.04,166.78 585.75,166.81 586.47,166.83 587.19,166.85 587.91,166.87 588.63,166.89 589.35,166.91 590.06,166.93 590.78,166.95 591.50,166.96 592.22,166.98 592.94,167.00 593.66,167.01 594.37,167.03 595.09,167.04 595.81,167.05 596.53,167.07 597.25,167.08 597.97,167.09 598.68,167.10 599.40,167.11 600.12,167.12 600.84,167.13 601.56,167.14 602.28,167.14 602.99,167.15 603.71,167.16 604.43,167.16 605.15,167.17 605.87,167.17 606.59,167.17 607.30,167.18 608.02,167.18 608.74,167.18 609.46,167.19 610.18,167.19 610.89,167.19 611.61,167.19 612.33,167.19 613.05,167.19 613.77,167.20 614.49,167.20 615.20,167.20 615.92,167.20 616.64,167.20 617.36,167.20 618.08,167.20 618.80,167.20 619.51,167.20 620.23,167.20 620.95,167.20 621.67,167.20 622.39,167.20 623.11,167.20 623.82,167.20 624.54,167.20 625.26,167.20 625.98,167.20 626.70,167.20 627.42,167.20 628.13,167.20 628.85,167.20 629.57,167.20 630.29,167.20 631.01,167.20 631.73,167.20 632.44,167.20 633.16,167.20 633.88,167.20 634.60,167.20 635.32,167.20 636.04,167.20 636.75,167.20 637.47,167.20 638.19,167.20 638.91,167.20 639.63,167.20 640.35,167.20 641.06,167.20 641.78,167.20 642.50,167.20" fill="none" stroke="#0000ff" stroke-width="2.7" stroke-linejoin="round"/>
<polyline points="355.90,167.09 356.62,167.08 357.34,167.08 358.05,167.08 358.77,167.07 359.49,167.07 360.21,167.06 360.93,167.06 361.65,167.05 362.36,167.05 363.08,167.04 363.80,167.04 364.52,167.03 365.24,167.02 365.96,167.02 366.67,167.01 367.39,167.01 368.11,167.00 368.83,166.99 369.55,166.98 370.27,166.98 370.98,166.97 371.70,166.96 372.42,166.95 373.14,166.94 373.86,166.93 374.58,166.92 375.29,166.92 376.01,166.91 376.73,166.89 377.45,166.88 378.17,166.87 378.89,166.86 379.60,166.85 380.32,166.84 381.04,166.82 381.76,166.81 382.48,166.80 383.20,166.78 383.91,166.77 384.63,166.75 385.35,166.74 386.07,166.72 386.79,166.71 387.51,166.69 388.22,166.67 388.94,166.65 389.66,166.63 390.38,166.61 391.10,166.59 391.81,166.57 392.53,166.55 393.25,166.53 393.97,166.50 394.69,166.48 395.41,166.45 396.12,166.43 396.84,166.40 397.56,166.37 398.28,166.34 399.00,166.31 399.72,166.28 400.43,166.25 401.15,166.21 401.87,166.18 402.59,166.14 403.31,166.11 404.03,166.07 404.74,166.03 405.46,165.99 406.18,165.95 406.90,165.90 407.62,165.86 408.34,165.81 409.05,165.76 409.77,165.71 410.49,165.66 411.21,165.61 411.93,165.55 412.65,165.49 413.36,165.43 414.08,165.37 414.80,165.31 415.52,165.24 416.24,165.18 416.96,165.10 417.67,165.03 418.39,164.96 419.11,164.88 419.83,164.80 420.55,164.72 421.26,164.63 421.98,164.54 422.70,164.45 423.42,164.35 424.14,164.26 424.86,164.15 425.57,164.05 426.29,163.94 427.01,163.83 427.73,163.71 428.45,163.59 429.17,163.47 429.88,163.34 430.60,163.21 431.32,163.07 432.04,162.93 432.76,162.79 433.48,162.64 434.19,162.48 434.91,162.32 435.63,162.15 436.35,161.98 437.07,161.81 437.79,161.62 438.50,161.44 439.22,161.24 439.94,161.04 440.66,160.83 441.38,160.62 442.10,160.40 442.81,160.17 443.53,159.94 444.25,159.70 444.97,159.45 445.69,159.19 446.41,158.92 447.12,158.65 447.84,158.37 448.56,158.08 449.28,157.78 450.00,157.47 450.72,157.15 451.43,156.82 452.15,156.49 452.87,156.14 453.59,155.78 454.31,155.42 455.02,155.04 455.74,154.65 456.46,154.25 457.18,153.84 457.90,153.42 458.62,152.99 459.33,152.54 460.05,152.08 460.77,151.61 461.49,151.13 462.21,150.64 462.93,150.13 463.64,149.61 464.36,149.08 465.08,148.53 465.80,147.97 466.52,147.40 467.24,146.81 467.95,146.21 468.67,145.60 469.39,144.97 470.11,144.33 470.83,143.68 471.55,143.01 472.26,142.33 472.98,141.64 473.70,140.93 474.42,140.22 475.14,139.48 475.86,138.74 476.57,137.98 477.29,137.22 478.01,136.44 478.73,135.65 479.45,134.85 480.17,134.04 480.88,133.22 481.60,132.39 482.32,131.55 483.04,130.71 483.76,129.86 484.47,129.01 485.19,128.15 485.91,127.29 486.63,126.42 487.35,125.56 488.07,124.69 488.78,123.83 489.50,122.96 490.22,122.10 490.94,121.25 491.66,120.41 492.38,119.57 493.09,118.74 493.81,117.92 494.53,117.12 495.25,116.33 495.97,115.56 496.69,114.81 497.40,114.07 498.12,113.36 498.84,112.68 499.56,112.01 500.28,111.38 501.00,110.77 501.71,110.20 502.43,109.65 503.15,109.14 503.87,108.67 504.59,108.23 505.31,107.83 506.02,107.47 506.74,107.14 507.46,106.86 508.18,106.62 508.90,106.42 509.62,106.26 510.33,106.14 511.05,106.06 511.77,106.03 512.49,106.03 513.21,106.07 513.93,106.16 514.64,106.28 515.36,106.44 516.08,106.63 516.80,106.86 517.52,107.11 518.23,107.40 518.95,107.71 519.67,108.05 520.39,108.41 521.11,108.79 521.83,109.19 522.54,109.60 523.26,110.02 523.98,110.46 524.70,110.90 525.42,111.35 526.14,111.80 526.85,112.25 527.57,112.70 528.29,113.14 529.01,113.59 529.73,114.02 530.45,114.45 531.16,114.88 531.88,115.29 532.60,115.70 533.32,116.10 534.04,116.49 534.76,116.88 535.47,117.25 536.19,117.62 536.91,117.98 537.63,118.34 538.35,118.69 539.07,119.04 539.78,119.39 540.50,119.73 541.22,120.08 541.94,120.43 542.66,120.78 543.38,121.13 544.09,121.48 544.81,121.84 545.53,122.21 546.25,122.58 546.97,122.96 547.68,123.34 548.40,123.74 549.12,124.14 549.84,124.55 550.56,124.98 551.28,125.41 551.99,125.85 552.71,126.30 553.43,126.76 554.15,127.24 554.87,127.72 555.59,128.21 556.30,128.72 557.02,129.24 557.74,129.76 558.46,130.30 559.18,130.85 559.90,131.41 560.61,131.98 561.33,132.56 562.05,133.15 562.77,133.75 563.49,134.36 564.21,134.98 564.92,135.61 565.64,136.25 566.36,136.90 567.08,137.55 567.80,138.22 568.52,138.89 569.23,139.57 569.95,140.26 570.67,140.95 571.39,141.65 572.11,142.35 572.83,143.06 573.54,143.77 574.26,144.49 574.98,145.20 575.70,145.92 576.42,146.64 577.14,147.36 577.85,148.08 578.57,148.79 579.29,149.51 580.01,150.21 580.73,150.92 581.44,151.62 582.16,152.31 582.88,152.99 583.60,153.66 584.32,154.33 585.04,154.98 585.75,155.62 586.47,156.25 587.19,156.87 587.91,157.47 588.63,158.05 589.35,158.62 590.06,159.17 590.78,159.70 591.50,160.22 592.22,160.71 592.94,161.19 593.66,161.64 594.37,162.08 595.09,162.50 595.81,162.89 596.53,163.26 597.25,163.62 597.97,163.95 598.68,164.26 599.40,164.55 600.12,164.82 600.84,165.07 601.56,165.30 602.28,165.52 602.99,165.71 603.71,165.89 604.43,166.05 605.15,166.20 605.87,166.33 606.59,166.45 607.30,166.56 608.02,166.65 608.74,166.73 609.46,166.81 610.18,166.87 610.89,166.92 611.61,166.97 612.33,167.01 613.05,167.05 613.77,167.08 614.49,167.10 615.20,167.12 615.92,167.14 616.64,167.15 617.36,167.16 618.08,167.17 618.80,167.18 619.51,167.18 620.23,167.19 620.95,167.19 621.67,167.19 622.39,167.19 623.11,167.20 623.82,167.20 624.54,167.20 625.26,167.20 625.98,167.20 626.70,167.20 627.42,167.20 628.13,167.20 628.85,167.20 629.57,167.20 630.29,167.20 631.01,167.20 631.73,167.20 632.44,167.20 633.16,167.20 633.88,167.20 634.60,167.20 635.32,167.20 636.04,167.20 636.75,167.20 637.47,167.20 638.19,167.20 638.91,167.20 639.63,167.20 640.35,167.20 641.06,167.20 641.78,167.20 642.50,167.20" fill="none" stroke="#00ff00" stroke-width="2.7" stroke-linejoin="round"/>
<polyline points="355.90,167.20 356.62,167.20 357.34,167.20 358.05,167.20 358.77,167.20 359.49,167.20 360.21,167.20 360.93,167.20 361.65,167.20 362.36,167.20 363.08,167.20 363.80,167.20 364.52,167.20 365.24,167.20 365.96,167.20 366.67,167.20 367.39,167.20 368.11,167.20 368.83,167.20 369.55,167.20 370.27,167.20 370.98,167.20 371.70,167.20 372.42,167.20 373.14,167.20 373.86,167.20 374.58,167.20 375.29,167.20 376.01,167.20 376.73,167.20 377.45,167.20 378.17,167.20 378.89,167.20 379.60,167.20 380.32,167.20 381.04,167.20 381.76,167.20 382.48,167.20 383.20,167.20 383.91,167.20 384.63,167.20 385.35,167.20 386.07,167.20 386.79,167.20 387.51,167.20 388.22,167.20 388.94,167.20 389.66,167.20 390.38,167.20 391.10,167.20 391.81,167.20 392.53,167.20 393.25,167.20 393.97,167.20 394.69,167.20 395.41,167.20 396.12,167.20 396.84,167.20 397.56,167.20 398.28,167.20 399.00,167.20 399.72,167.20 400.43,167.20 401.15,167.20 401.87,167.20 402.59,167.20 403.31,167.20 404.03,167.20 404.74,167.20 405.46,167.20 406.18,167.19 406.90,167.19 407.62,167.19 408.34,167.19 409.05,167.19 409.77,167.19 410.49,167.19 411.21,167.19 411.93,167.19 412.65,167.19 413.36,167.19 414.08,167.19 414.80,167.19 415.52,167.19 416.24,167.19 416.96,167.19 417.67,167.18 418.39,167.18 419.11,167.18 419.83,167.18 420.55,167.18 421.26,167.18 421.98,167.18 422.70,167.18 423.42,167.17 424.14,167.17 424.86,167.17 425.57,167.17 426.29,167.17 427.01,167.16 427.73,167.16 428.45,167.16 429.17,167.15 429.88,167.15 430.60,167.15 431.32,167.14 432.04,167.14 432.76,167.14 433.48,167.13 434.19,167.13 434.91,167.12 435.63,167.11 436.35,167.11 437.07,167.10 437.79,167.10 438.50,167.09 439.22,167.08 439.94,167.07 440.66,167.06 441.38,167.05 442.10,167.04 442.81,167.03 443.53,167.02 444.25,167.01 444.97,166.99 445.69,166.98 446.41,166.96 447.12,166.95 447.84,166.93 448.56,166.91 449.28,166.89 450.00,166.87 450.72,166.85 451.43,166.82 452.15,166.80 452.87,166.77 453.59,166.74 454.31,166.71 455.02,166.67 455.74,166.64 456.46,166.60 457.18,166.56 457.90,166.51 458.62,166.47 459.33,166.42 460.05,166.36 460.77,166.31 461.49,166.25 462.21,166.18 462.93,166.11 463.64,166.04 464.36,165.96 465.08,165.88 465.80,165.79 466.52,165.70 467.24,165.60 467.95,165.49 468.67,165.38 469.39,165.26 470.11,165.13 470.83,164.99 471.55,164.85 472.26,164.69 472.98,164.53 473.70,164.36 474.42,164.18 475.14,163.98 475.86,163.77 476.57,163.56 477.29,163.32 478.01,163.08 478.73,162.82 479.45,162.54 480.17,162.25 480.88,161.95 481.60,161.62 482.32,161.28 483.04,160.92 483.76,160.54 484.47,160.14 485.19,159.71 485.91,159.27 486.63,158.80 487.35,158.30 488.07,157.78 488.78,157.24 489.50,156.66 490.22,156.06 490.94,155.43 491.66,154.77 492.38,154.08 493.09,153.36 493.81,152.61 494.53,151.82 495.25,151.00 495.97,150.15 496.69,149.26 497.40,148.33 498.12,147.37 498.84,146.38 499.56,145.34 500.28,144.27 501.00,143.17 501.71,142.02 502.43,140.85 503.15,139.63 503.87,138.38 504.59,137.10 505.31,135.78 506.02,134.44 506.74,133.06 507.46,131.65 508.18,130.22 508.90,128.76 509.62,127.28 510.33,125.77 511.05,124.25 511.77,122.71 512.49,121.16 513.21,119.60 513.93,118.04 514.64,116.47 515.36,114.90 516.08,113.34 516.80,111.78 517.52,110.23 518.23,108.70 518.95,107.19 519.67,105.70 520.39,104.23 521.11,102.80 521.83,101.39 522.54,100.02 523.26,98.69 523.98,97.40 524.70,96.15 525.42,94.94 526.14,93.78 526.85,92.67 527.57,91.61 528.29,90.60 529.01,89.63 529.73,88.71 530.45,87.84 531.16,87.02 531.88,86.24 532.60,85.51 533.32,84.82 534.04,84.17 534.76,83.55 535.47,82.97 536.19,82.42 536.91,81.90 537.63,81.41 538.35,80.94 539.07,80.49 539.78,80.06 540.50,79.64 541.22,79.23 541.94,78.84 542.66,78.45 543.38,78.06 544.09,77.68 544.81,77.30 545.53,76.91 546.25,76.53 546.97,76.14 547.68,75.74 548.40,75.34 549.12,74.93 549.84,74.51 550.56,74.09 551.28,73.66 551.99,73.21 552.71,72.76 553.43,72.30 554.15,71.82 554.87,71.34 555.59,70.85 556.30,70.34 557.02,69.82 557.74,69.30 558.46,68.76 559.18,68.21 559.90,67.65 560.61,67.08 561.33,66.50 562.05,65.91 562.77,65.31 563.49,64.70 564.21,64.08 564.92,63.45 565.64,62.81 566.36,62.16 567.08,61.50 567.80,60.84 568.52,60.17 569.23,59.49 569.95,58.80 570.67,58.11 571.39,57.41 572.11,56.71 572.83,56.00 573.54,55.29 574.26,54.57 574.98,53.85 575.70,53.14 576.42,52.42 577.14,51.70 577.85,50.98 578.57,50.27 579.29,49.55 580.01,48.84 580.73,48.14 581.44,47.44 582.16,46.75 582.88,46.07 583.60,45.40 584.32,44.73 585.04,44.08 585.75,43.44 586.47,42.81 587.19,42.19 587.91,41.59 588.63,41.01 589.35,40.44 590.06,39.89 590.78,39.36 591.50,38.84 592.22,38.35 592.94,37.87 593.66,37.41 594.37,36.98 595.09,36.56 595.81,36.17 596.53,35.80 597.25,35.44 597.97,35.11 598.68,34.80 599.40,34.51 600.12,34.24 600.84,33.99 601.56,33.76 602.28,33.54 602.99,33.35 603.71,33.17 604.43,33.01 605.15,32.86 605.87,32.73 606.59,32.61 607.30,32.50 608.02,32.41 608.74,32.33 609.46,32.25 610.18,32.19 610.89,32.13 611.61,32.09 612.33,32.05 613.05,32.01 613.77,31.98 614.49,31.96 615.20,31.94 615.92,31.92 616.64,31.91 617.36,31.90 618.08,31.89 618.80,31.88 619.51,31.88 620.23,31.87 620.95,31.87 621.67,31.87 622.39,31.86 623.11,31.86 623.82,31.86 624.54,31.86 625.26,31.86 625.98,31.86 626.70,31.86 627.42,31.86 628.13,31.86 628.85,31.86 629.57,31.86 630.29,31.86 631.01,31.86 631.73,31.86 632.44,31.86 633.16,31.86 633.88,31.86 634.60,31.86 635.32,31.86 636.04,31.86 636.75,31.86 637.47,31.86 638.19,31.86 638.91,31.86 639.63,31.86 640.35,31.86 641.06,31.86 641.78,31.86 642.50,31.86" fill="none" stroke="#ff0000" stroke-width="2.7" stroke-linejoin="round"/>
<polyline points="355.90,167.09 356.62,167.08 357.34,167.08 358.05,167.08 358.77,167.07 359.49,167.07 360.21,167.06 360.93,167.06 361.65,167.05 362.36,167.05 363.08,167.04 363.80,167.04 364.52,167.03 365.24,167.02 365.96,167.02 366.67,167.01 367.39,167.01 368.11,167.00 368.83,166.99 369.55,166.98 370.27,166.98 370.98,166.97 371.70,166.96 372.42,166.95 373.14,166.94 373.86,166.93 374.58,166.92 375.29,166.91 376.01,166.90 376.73,166.89 377.45,166.88 378.17,166.87 378.89,166.86 379.60,166.85 380.32,166.84 381.04,166.82 381.76,166.81 382.48,166.80 383.20,166.78 383.91,166.77 384.63,166.75 385.35,166.74 386.07,166.72 386.79,166.70 387.51,166.69 388.22,166.67 388.94,166.65 389.66,166.63 390.38,166.61 391.10,166.59 391.81,166.57 392.53,166.55 393.25,166.52 393.97,166.50 394.69,166.48 395.41,166.45 396.12,166.42 396.84,166.40 397.56,166.37 398.28,166.34 399.00,166.31 399.72,166.28 400.43,166.24 401.15,166.21 401.87,166.18 402.59,166.14 403.31,166.10 404.03,166.06 404.74,166.03 405.46,165.98 406.18,165.94 406.90,165.90 407.62,165.85 408.34,165.80 409.05,165.76 409.77,165.70 410.49,165.65 411.21,165.60 411.93,165.54 412.65,165.48 413.36,165.42 414.08,165.36 414.80,165.30 415.52,165.23 416.24,165.16 416.96,165.09 417.67,165.02 418.39,164.94 419.11,164.86 419.83,164.78 420.55,164.70 421.26,164.61 421.98,164.52 422.70,164.42 423.42,164.33 424.14,164.23 424.86,164.12 425.57,164.02 426.29,163.91 427.01,163.79 427.73,163.67 428.45,163.55 429.17,163.42 429.88,163.29 430.60,163.16 431.32,163.02 432.04,162.87 432.76,162.72 433.48,162.57 434.19,162.41 434.91,162.24 435.63,162.07 436.35,161.89 437.07,161.71 437.79,161.52 438.50,161.32 439.22,161.12 439.94,160.91 440.66,160.70 441.38,160.47 442.10,160.24 442.81,160.00 443.53,159.76 444.25,159.50 444.97,159.24 445.69,158.97 446.41,158.69 447.12,158.40 447.84,158.10 448.56,157.79 449.28,157.47 450.00,157.14 450.72,156.80 451.43,156.45 452.15,156.08 452.87,155.71 453.59,155.32 454.31,154.93 455.02,154.51 455.74,154.09 456.46,153.65 457.18,153.20 457.90,152.73 458.62,152.25 459.33,151.76 460.05,151.25 460.77,150.72 461.49,150.18 462.21,149.62 462.93,149.04 463.64,148.45 464.36,147.84 465.08,147.21 465.80,146.56 466.52,145.90 467.24,145.21 467.95,144.50 468.67,143.78 469.39,143.03 470.11,142.26 470.83,141.47 471.55,140.66 472.26,139.83 472.98,138.97 473.70,138.09 474.42,137.19 475.14,136.26 475.86,135.31 476.57,134.34 477.29,133.34 478.01,132.32 478.73,131.27 479.45,130.19 480.17,129.09 480.88,127.97 481.60,126.81 482.32,125.63 483.04,124.43 483.76,123.20 484.47,121.94 485.19,120.66 485.91,119.35 486.63,118.02 487.35,116.66 488.07,115.27 488.78,113.86 489.50,112.43 490.22,110.97 490.94,109.49 491.66,107.98 492.38,106.45 493.09,104.90 493.81,103.33 494.53,101.74 495.25,100.13 495.97,98.51 496.69,96.87 497.40,95.21 498.12,93.54 498.84,91.85 499.56,90.16 500.28,88.45 501.00,86.74 501.71,85.02 502.43,83.30 503.15,81.58 503.87,79.85 504.59,78.13 505.31,76.41 506.02,74.70 506.74,73.00 507.46,71.31 508.18,69.64 508.90,67.97 509.62,66.33 510.33,64.71 511.05,63.11 511.77,61.54 512.49,59.99 513.21,58.48 513.93,57.00 514.64,55.55 515.36,54.14 516.08,52.77 516.80,51.44 517.52,50.15 518.23,48.90 518.95,47.70 519.67,46.55 520.39,45.44 521.11,44.39 521.83,43.38 522.54,42.42 523.26,41.51 523.98,40.66 524.70,39.85 525.42,39.09 526.14,38.38 526.85,37.72 527.57,37.11 528.29,36.54 529.01,36.02 529.73,35.54 530.45,35.10 531.16,34.70 531.88,34.34 532.60,34.01 533.32,33.72 534.04,33.46 534.76,33.23 535.47,33.02 536.19,32.84 536.91,32.69 537.63,32.55 538.35,32.43 539.07,32.33 539.78,32.25 540.50,32.17 541.22,32.11 541.94,32.06 542.66,32.02 543.38,31.99 544.09,31.96 544.81,31.94 545.53,31.92 546.25,31.91 546.97,31.89 547.68,31.89 548.40,31.88 549.12,31.87 549.84,31.87 550.56,31.87 551.28,31.86 551.99,31.86 552.71,31.86 553.43,31.86 554.15,31.86 554.87,31.86 555.59,31.86 556.30,31.86 557.02,31.86 557.74,31.86 558.46,31.86 559.18,31.86 559.90,31.86 560.61,31.86 561.33,31.86 562.05,31.86 562.77,31.86 563.49,31.86 564.21,31.86 564.92,31.86 565.64,31.86 566.36,31.86 567.08,31.86 567.80,31.86 568.52,31.86 569.23,31.86 569.95,31.86 570.67,31.86 571.39,31.86 572.11,31.86 572.83,31.86 573.54,31.86 574.26,31.86 574.98,31.86 575.70,31.86 576.42,31.86 577.14,31.86 577.85,31.86 578.57,31.86 579.29,31.86 580.01,31.86 580.73,31.86 581.44,31.86 582.16,31.86 582.88,31.86 583.60,31.86 584.32,31.86 585.04,31.86 585.75,31.86 586.47,31.86 587.19,31.86 587.91,31.86 588.63,31.86 589.35,31.86 590.06,31.86 590.78,31.86 591.50,31.86 592.22,31.86 592.94,31.86 593.66,31.86 594.37,31.86 595.09,31.86 595.81,31.86 596.53,31.86 597.25,31.86 597.97,31.86 598.68,31.86 599.40,31.86 600.12,31.86 600.84,31.86 601.56,31.86 602.28,31.86 602.99,31.86 603.71,31.86 604.43,31.86 605.15,31.86 605.87,31.86 606.59,31.86 607.30,31.86 608.02,31.86 608.74,31.86 609.46,31.86 610.18,31.86 610.89,31.86 611.61,31.86 612.33,31.86 613.05,31.86 613.77,31.86 614.49,31.86 615.20,31.86 615.92,31.86 616.64,31.86 617.36,31.86 618.08,31.86 618.80,31.86 619.51,31.86 620.23,31.86 620.95,31.86 621.67,31.86 622.39,31.86 623.11,31.86 623.82,31.86 624.54,31.86 625.26,31.86 625.98,31.86 626.70,31.86 627.42,31.86 628.13,31.86 628.85,31.86 629.57,31.86 630.29,31.86 631.01,31.86 631.73,31.86 632.44,31.86 633.16,31.86 633.88,31.86 634.60,31.86 635.32,31.86 636.04,31.86 636.75,31.86 637.47,31.86 638.19,31.86 638.91,31.86 639.63,31.86 640.35,31.86 641.06,31.86 641.78,31.86 642.50,31.86" fill="none" stroke="#ff00ff" stroke-width="2.7" stroke-linejoin="round"/>
</svg>
<text x="348.51" y="179.10" style="font-family:&quot;Liberation Sans&quot;,sans-serif;stroke:#000;stroke-width:0.22px;font-size:8.00px"> 0</text><path transform="translate(348.51 179.10) scale(0.003906 -0.003906)" d="M515 0V1237L197 1010V1180L530 1409H696V0Z" stroke="#000" stroke-width="56.3"/><text x="357.11" y="174.50" style="font-family:&quot;Liberation Sans&quot;,sans-serif;stroke:#000;stroke-width:0.22px;font-size:5.60px">−2</text>
<text x="396.28" y="179.10" style="font-family:&quot;Liberation Sans&quot;,sans-serif;stroke:#000;stroke-width:0.22px;font-size:8.00px"> 0</text><path transform="translate(396.28 179.10) scale(0.003906 -0.003906)" d="M515 0V1237L197 1010V1180L530 1409H696V0Z" stroke="#000" stroke-width="56.3"/><text x="404.87" y="174.50" style="font-family:&quot;Liberation Sans&quot;,sans-serif;stroke:#000;stroke-width:0.22px;font-size:5.60px">− </text><path transform="translate(408.14 174.50) scale(0.002734 -0.002734)" d="M515 0V1237L197 1010V1180L530 1409H696V0Z" stroke="#000" stroke-width="80.5"/>
<text x="445.68" y="179.10" style="font-family:&quot;Liberation Sans&quot;,sans-serif;stroke:#000;stroke-width:0.22px;font-size:8.00px"> 0</text><path transform="translate(445.68 179.10) scale(0.003906 -0.003906)" d="M515 0V1237L197 1010V1180L530 1409H696V0Z" stroke="#000" stroke-width="56.3"/><text x="454.28" y="174.50" style="font-family:&quot;Liberation Sans&quot;,sans-serif;stroke:#000;stroke-width:0.22px;font-size:5.60px">0</text>
<text x="493.44" y="179.10" style="font-family:&quot;Liberation Sans&quot;,sans-serif;stroke:#000;stroke-width:0.22px;font-size:8.00px"> 0</text><path transform="translate(493.44 179.10) scale(0.003906 -0.003906)" d="M515 0V1237L197 1010V1180L530 1409H696V0Z" stroke="#000" stroke-width="56.3"/><path transform="translate(502.04 174.50) scale(0.002734 -0.002734)" d="M515 0V1237L197 1010V1180L530 1409H696V0Z" stroke="#000" stroke-width="80.5"/>
<text x="541.21" y="179.10" style="font-family:&quot;Liberation Sans&quot;,sans-serif;stroke:#000;stroke-width:0.22px;font-size:8.00px"> 0</text><path transform="translate(541.21 179.10) scale(0.003906 -0.003906)" d="M515 0V1237L197 1010V1180L530 1409H696V0Z" stroke="#000" stroke-width="56.3"/><text x="549.81" y="174.50" style="font-family:&quot;Liberation Sans&quot;,sans-serif;stroke:#000;stroke-width:0.22px;font-size:5.60px">2</text>
<text x="588.98" y="179.10" style="font-family:&quot;Liberation Sans&quot;,sans-serif;stroke:#000;stroke-width:0.22px;font-size:8.00px"> 0</text><path transform="translate(588.98 179.10) scale(0.003906 -0.003906)" d="M515 0V1237L197 1010V1180L530 1409H696V0Z" stroke="#000" stroke-width="56.3"/><text x="597.58" y="174.50" style="font-family:&quot;Liberation Sans&quot;,sans-serif;stroke:#000;stroke-width:0.22px;font-size:5.60px">3</text>
<text x="636.74" y="179.10" style="font-family:&quot;Liberation Sans&quot;,sans-serif;stroke:#000;stroke-width:0.22px;font-size:8.00px"> 0</text><path transform="translate(636.74 179.10) scale(0.003906 -0.003906)" d="M515 0V1237L197 1010V1180L530 1409H696V0Z" stroke="#000" stroke-width="56.3"/><text x="645.34" y="174.50" style="font-family:&quot;Liberation Sans&quot;,sans-serif;stroke:#000;stroke-width:0.22px;font-size:5.60px">4</text>
<text x="348.65" y="170.30" style="font-family:&quot;Liberation Sans&quot;,sans-serif;stroke:#000;stroke-width:0.22px;font-size:8.00px">0</text>
<text x="341.98" y="139.37" style="font-family:&quot;Liberation Sans&quot;,sans-serif;stroke:#000;stroke-width:0.22px;font-size:8.00px">0.5</text>
<path transform="translate(348.65 108.45) scale(0.003906 -0.003906)" d="M515 0V1237L197 1010V1180L530 1409H696V0Z" stroke="#000" stroke-width="56.3"/>
<text x="341.98" y="77.52" style="font-family:&quot;Liberation Sans&quot;,sans-serif;stroke:#000;stroke-width:0.22px;font-size:8.00px"> .5</text><path transform="translate(341.98 77.52) scale(0.003906 -0.003906)" d="M515 0V1237L197 1010V1180L530 1409H696V0Z" stroke="#000" stroke-width="56.3"/>
<text x="348.65" y="46.60" style="font-family:&quot;Liberation Sans&quot;,sans-serif;stroke:#000;stroke-width:0.22px;font-size:8.00px">2</text>
<text x="341.98" y="15.67" style="font-family:&quot;Liberation Sans&quot;,sans-serif;stroke:#000;stroke-width:0.22px;font-size:8.00px">2.5</text>
<text x="356.00" y="9.77" style="font-family:&quot;Liberation Sans&quot;,sans-serif;stroke:#000;stroke-width:0.22px;font-size:7.70px">x  0</text><path transform="translate(361.99 9.77) scale(0.003760 -0.003760)" d="M515 0V1237L197 1010V1180L530 1409H696V0Z" stroke="#000" stroke-width="58.5"/><text x="370.55" y="5.07" style="font-family:&quot;Liberation Sans&quot;,sans-serif;stroke:#000;stroke-width:0.22px;font-size:5.40px">− 2</text><path transform="translate(373.71 5.07) scale(0.002637 -0.002637)" d="M515 0V1237L197 1010V1180L530 1409H696V0Z" stroke="#000" stroke-width="83.4"/>
<text x="499.20" y="6.57" text-anchor="middle" style="font-family:&quot;Liberation Serif&quot;,serif;stroke:#000;stroke-width:0.32px;font-size:9.6px">CH4</text>
<text x="499.20" y="189.70" text-anchor="middle" style="font-family:&quot;Liberation Serif&quot;,serif;stroke:#000;stroke-width:0.32px;font-size:9.6px">Time–Horizon (years)</text>
<text transform="translate(337.50 89.88) rotate(-90)" text-anchor="middle" style="font-family:&quot;Liberation Serif&quot;,serif;stroke:#000;stroke-width:0.32px;font-size:9.6px">Absolute metric (Wm<tspan dy="-4.1" style="font-size:6.6px">−2</tspan><tspan dy="4.1">yr)</tspan></text>
<g stroke="#444" stroke-width="0.9" stroke-dasharray="1 2.6"><line x1="42.85" y1="211.95" x2="42.85" y2="363.90"/><line x1="51.24" y1="211.95" x2="51.24" y2="363.90"/><line x1="57.20" y1="211.95" x2="57.20" y2="363.90"/><line x1="61.82" y1="211.95" x2="61.82" y2="363.90"/><line x1="65.59" y1="211.95" x2="65.59" y2="363.90"/><line x1="68.78" y1="211.95" x2="68.78" y2="363.90"/><line x1="71.55" y1="211.95" x2="71.55" y2="363.90"/><line x1="73.99" y1="211.95" x2="73.99" y2="363.90"/><line x1="76.17" y1="211.95" x2="76.17" y2="363.90"/><line x1="90.52" y1="211.95" x2="90.52" y2="363.90"/><line x1="98.91" y1="211.95" x2="98.91" y2="363.90"/><line x1="104.86" y1="211.95" x2="104.86" y2="363.90"/><line x1="109.48" y1="211.95" x2="109.48" y2="363.90"/><line x1="113.26" y1="211.95" x2="113.26" y2="363.90"/><line x1="116.45" y1="211.95" x2="116.45" y2="363.90"/><line x1="119.21" y1="211.95" x2="119.21" y2="363.90"/><line x1="121.65" y1="211.95" x2="121.65" y2="363.90"/><line x1="123.83" y1="211.95" x2="123.83" y2="363.90"/><line x1="138.18" y1="211.95" x2="138.18" y2="363.90"/><line x1="146.58" y1="211.95" x2="146.58" y2="363.90"/><line x1="152.53" y1="211.95" x2="152.53" y2="363.90"/><line x1="157.15" y1="211.95" x2="157.15" y2="363.90"/><line x1="160.93" y1="211.95" x2="160.93" y2="363.90"/><line x1="164.12" y1="211.95" x2="164.12" y2="363.90"/><line x1="166.88" y1="211.95" x2="166.88" y2="363.90"/><line x1="169.32" y1="211.95" x2="169.32" y2="363.90"/><line x1="171.50" y1="211.95" x2="171.50" y2="363.90"/><line x1="185.85" y1="211.95" x2="185.85" y2="363.90"/><line x1="194.24" y1="211.95" x2="194.24" y2="363.90"/><line x1="200.20" y1="211.95" x2="200.20" y2="363.90"/><line x1="204.82" y1="211.95" x2="204.82" y2="363.90"/><line x1="208.59" y1="211.95" x2="208.59" y2="363.90"/><line x1="211.78" y1="211.95" x2="211.78" y2="363.90"/><line x1="214.55" y1="211.95" x2="214.55" y2="363.90"/><line x1="216.99" y1="211.95" x2="216.99" y2="363.90"/><line x1="219.17" y1="211.95" x2="219.17" y2="363.90"/><line x1="233.52" y1="211.95" x2="233.52" y2="363.90"/><line x1="241.91" y1="211.95" x2="241.91" y2="363.90"/><line x1="247.86" y1="211.95" x2="247.86" y2="363.90"/><line x1="252.48" y1="211.95" x2="252.48" y2="363.90"/><line x1="256.26" y1="211.95" x2="256.26" y2="363.90"/><line x1="259.45" y1="211.95" x2="259.45" y2="363.90"/><line x1="262.21" y1="211.95" x2="262.21" y2="363.90"/><line x1="264.65" y1="211.95" x2="264.65" y2="363.90"/><line x1="266.83" y1="211.95" x2="266.83" y2="363.90"/><line x1="281.18" y1="211.95" x2="281.18" y2="363.90"/><line x1="289.58" y1="211.95" x2="289.58" y2="363.90"/><line x1="295.53" y1="211.95" x2="295.53" y2="363.90"/><line x1="300.15" y1="211.95" x2="300.15" y2="363.90"/><line x1="303.93" y1="211.95" x2="303.93" y2="363.90"/><line x1="307.12" y1="211.95" x2="307.12" y2="363.90"/><line x1="309.88" y1="211.95" x2="309.88" y2="363.90"/><line x1="312.32" y1="211.95" x2="312.32" y2="363.90"/><line x1="29.50" y1="347.79" x2="313.50" y2="347.79"/><line x1="29.50" y1="330.69" x2="313.50" y2="330.69"/><line x1="29.50" y1="313.58" x2="313.50" y2="313.58"/><line x1="29.50" y1="296.48" x2="313.50" y2="296.48"/><line x1="29.50" y1="279.38" x2="313.50" y2="279.38"/><line x1="29.50" y1="262.27" x2="313.50" y2="262.27"/><line x1="29.50" y1="245.16" x2="313.50" y2="245.16"/><line x1="29.50" y1="228.06" x2="313.50" y2="228.06"/></g>
<path d="M28.50 364.90v-2.6M28.50 210.95v2.6M42.85 364.90v-1.6M42.85 210.95v1.6M51.24 364.90v-1.6M51.24 210.95v1.6M57.20 364.90v-1.6M57.20 210.95v1.6M61.82 364.90v-1.6M61.82 210.95v1.6M65.59 364.90v-1.6M65.59 210.95v1.6M68.78 364.90v-1.6M68.78 210.95v1.6M71.55 364.90v-1.6M71.55 210.95v1.6M73.99 364.90v-1.6M73.99 210.95v1.6M76.17 364.90v-2.6M76.17 210.95v2.6M90.52 364.90v-1.6M90.52 210.95v1.6M98.91 364.90v-1.6M98.91 210.95v1.6M104.86 364.90v-1.6M104.86 210.95v1.6M109.48 364.90v-1.6M109.48 210.95v1.6M113.26 364.90v-1.6M113.26 210.95v1.6M116.45 364.90v-1.6M116.45 210.95v1.6M119.21 364.90v-1.6M119.21 210.95v1.6M121.65 364.90v-1.6M121.65 210.95v1.6M123.83 364.90v-2.6M123.83 210.95v2.6M138.18 364.90v-1.6M138.18 210.95v1.6M146.58 364.90v-1.6M146.58 210.95v1.6M152.53 364.90v-1.6M152.53 210.95v1.6M157.15 364.90v-1.6M157.15 210.95v1.6M160.93 364.90v-1.6M160.93 210.95v1.6M164.12 364.90v-1.6M164.12 210.95v1.6M166.88 364.90v-1.6M166.88 210.95v1.6M169.32 364.90v-1.6M169.32 210.95v1.6M171.50 364.90v-2.6M171.50 210.95v2.6M185.85 364.90v-1.6M185.85 210.95v1.6M194.24 364.90v-1.6M194.24 210.95v1.6M200.20 364.90v-1.6M200.20 210.95v1.6M204.82 364.90v-1.6M204.82 210.95v1.6M208.59 364.90v-1.6M208.59 210.95v1.6M211.78 364.90v-1.6M211.78 210.95v1.6M214.55 364.90v-1.6M214.55 210.95v1.6M216.99 364.90v-1.6M216.99 210.95v1.6M219.17 364.90v-2.6M219.17 210.95v2.6M233.52 364.90v-1.6M233.52 210.95v1.6M241.91 364.90v-1.6M241.91 210.95v1.6M247.86 364.90v-1.6M247.86 210.95v1.6M252.48 364.90v-1.6M252.48 210.95v1.6M256.26 364.90v-1.6M256.26 210.95v1.6M259.45 364.90v-1.6M259.45 210.95v1.6M262.21 364.90v-1.6M262.21 210.95v1.6M264.65 364.90v-1.6M264.65 210.95v1.6M266.83 364.90v-2.6M266.83 210.95v2.6M281.18 364.90v-1.6M281.18 210.95v1.6M289.58 364.90v-1.6M289.58 210.95v1.6M295.53 364.90v-1.6M295.53 210.95v1.6M300.15 364.90v-1.6M300.15 210.95v1.6M303.93 364.90v-1.6M303.93 210.95v1.6M307.12 364.90v-1.6M307.12 210.95v1.6M309.88 364.90v-1.6M309.88 210.95v1.6M312.32 364.90v-1.6M312.32 210.95v1.6M314.50 364.90v-2.6M314.50 210.95v2.6M28.50 364.90h2.6M314.50 364.90h-2.6M28.50 347.79h2.6M314.50 347.79h-2.6M28.50 330.69h2.6M314.50 330.69h-2.6M28.50 313.58h2.6M314.50 313.58h-2.6M28.50 296.48h2.6M314.50 296.48h-2.6M28.50 279.38h2.6M314.50 279.38h-2.6M28.50 262.27h2.6M314.50 262.27h-2.6M28.50 245.16h2.6M314.50 245.16h-2.6M28.50 228.06h2.6M314.50 228.06h-2.6M28.50 210.95h2.6M314.50 210.95h-2.6" stroke="#222" stroke-width="0.9" fill="none"/>
<rect x="28.50" y="210.95" width="286.30" height="153.95" fill="none" stroke="#333" stroke-width="1"/>
<svg x="28.00" y="210.75" width="287.00" height="154.65" viewBox="28.00 210.75 287.00 154.65" overflow="hidden">
<polyline points="28.50,364.89 29.22,364.89 29.93,364.89 30.65,364.89 31.37,364.88 32.08,364.88 32.80,364.88 33.52,364.88 34.23,364.88 34.95,364.88 35.67,364.88 36.38,364.88 37.10,364.88 37.82,364.88 38.54,364.88 39.25,364.88 39.97,364.88 40.69,364.88 41.40,364.88 42.12,364.87 42.84,364.87 43.55,364.87 44.27,364.87 44.99,364.87 45.70,364.87 46.42,364.87 47.14,364.87 47.85,364.87 48.57,364.87 49.29,364.86 50.00,364.86 50.72,364.86 51.44,364.86 52.15,364.86 52.87,364.86 53.59,364.86 54.30,364.85 55.02,364.85 55.74,364.85 56.45,364.85 57.17,364.85 57.89,364.85 58.61,364.84 59.32,364.84 60.04,364.84 60.76,364.84 61.47,364.84 62.19,364.83 62.91,364.83 63.62,364.83 64.34,364.83 65.06,364.82 65.77,364.82 66.49,364.82 67.21,364.82 67.92,364.81 68.64,364.81 69.36,364.81 70.07,364.80 70.79,364.80 71.51,364.80 72.22,364.79 72.94,364.79 73.66,364.78 74.37,364.78 75.09,364.78 75.81,364.77 76.53,364.77 77.24,364.76 77.96,364.76 78.68,364.75 79.39,364.75 80.11,364.74 80.83,364.74 81.54,364.73 82.26,364.73 82.98,364.72 83.69,364.71 84.41,364.71 85.13,364.70 85.84,364.69 86.56,364.69 87.28,364.68 87.99,364.67 88.71,364.66 89.43,364.65 90.14,364.65 90.86,364.64 91.58,364.63 92.29,364.62 93.01,364.61 93.73,364.60 94.44,364.59 95.16,364.58 95.88,364.57 96.60,364.56 97.31,364.54 98.03,364.53 98.75,364.52 99.46,364.50 100.18,364.49 100.90,364.48 101.61,364.46 102.33,364.45 103.05,364.43 103.76,364.42 104.48,364.40 105.20,364.38 105.91,364.36 106.63,364.35 107.35,364.33 108.06,364.31 108.78,364.29 109.50,364.27 110.21,364.24 110.93,364.22 111.65,364.20 112.36,364.18 113.08,364.15 113.80,364.13 114.52,364.10 115.23,364.07 115.95,364.04 116.67,364.02 117.38,363.99 118.10,363.95 118.82,363.92 119.53,363.89 120.25,363.86 120.97,363.82 121.68,363.79 122.40,363.75 123.12,363.71 123.83,363.67 124.55,363.63 125.27,363.59 125.98,363.55 126.70,363.50 127.42,363.46 128.13,363.41 128.85,363.36 129.57,363.31 130.28,363.26 131.00,363.21 131.72,363.15 132.43,363.10 133.15,363.04 133.87,362.98 134.59,362.92 135.30,362.86 136.02,362.79 136.74,362.73 137.45,362.66 138.17,362.59 138.89,362.52 139.60,362.45 140.32,362.37 141.04,362.30 141.75,362.22 142.47,362.14 143.19,362.05 143.90,361.97 144.62,361.88 145.34,361.80 146.05,361.71 146.77,361.61 147.49,361.52 148.20,361.42 148.92,361.32 149.64,361.22 150.35,361.12 151.07,361.02 151.79,360.91 152.51,360.81 153.22,360.70 153.94,360.59 154.66,360.47 155.37,360.36 156.09,360.24 156.81,360.12 157.52,360.01 158.24,359.89 158.96,359.76 159.67,359.64 160.39,359.52 161.11,359.39 161.82,359.27 162.54,359.14 163.26,359.01 163.97,358.89 164.69,358.76 165.41,358.63 166.12,358.50 166.84,358.38 167.56,358.25 168.27,358.12 168.99,358.00 169.71,357.87 170.42,357.75 171.14,357.63 171.86,357.51 172.58,357.39 173.29,357.28 174.01,357.16 174.73,357.05 175.44,356.95 176.16,356.84 176.88,356.74 177.59,356.64 178.31,356.55 179.03,356.46 179.74,356.37 180.46,356.29 181.18,356.21 181.89,356.14 182.61,356.07 183.33,356.01 184.04,355.95 184.76,355.90 185.48,355.86 186.19,355.82 186.91,355.78 187.63,355.75 188.34,355.73 189.06,355.72 189.78,355.70 190.49,355.70 191.21,355.70 191.93,355.71 192.65,355.72 193.36,355.74 194.08,355.76 194.80,355.79 195.51,355.82 196.23,355.86 196.95,355.91 197.66,355.95 198.38,356.01 199.10,356.07 199.81,356.13 200.53,356.20 201.25,356.27 201.96,356.34 202.68,356.42 203.40,356.50 204.11,356.59 204.83,356.68 205.55,356.77 206.26,356.86 206.98,356.96 207.70,357.06 208.41,357.16 209.13,357.27 209.85,357.38 210.57,357.49 211.28,357.60 212.00,357.71 212.72,357.83 213.43,357.95 214.15,358.07 214.87,358.19 215.58,358.31 216.30,358.43 217.02,358.56 217.73,358.69 218.45,358.82 219.17,358.95 219.88,359.08 220.60,359.21 221.32,359.34 222.03,359.47 222.75,359.61 223.47,359.74 224.18,359.87 224.90,360.01 225.62,360.14 226.33,360.28 227.05,360.41 227.77,360.54 228.48,360.68 229.20,360.81 229.92,360.94 230.64,361.07 231.35,361.20 232.07,361.33 232.79,361.45 233.50,361.58 234.22,361.70 234.94,361.82 235.65,361.94 236.37,362.05 237.09,362.17 237.80,362.28 238.52,362.39 239.24,362.49 239.95,362.59 240.67,362.70 241.39,362.79 242.10,362.89 242.82,362.98 243.54,363.07 244.25,363.15 244.97,363.24 245.69,363.32 246.40,363.39 247.12,363.47 247.84,363.54 248.56,363.61 249.27,363.67 249.99,363.73 250.71,363.80 251.42,363.85 252.14,363.91 252.86,363.96 253.57,364.01 254.29,364.06 255.01,364.11 255.72,364.15 256.44,364.20 257.16,364.24 257.87,364.28 258.59,364.31 259.31,364.35 260.02,364.39 260.74,364.42 261.46,364.45 262.17,364.48 262.89,364.51 263.61,364.54 264.32,364.56 265.04,364.59 265.76,364.61 266.47,364.64 267.19,364.66 267.91,364.68 268.63,364.70 269.34,364.72 270.06,364.73 270.78,364.75 271.49,364.76 272.21,364.78 272.93,364.79 273.64,364.80 274.36,364.81 275.08,364.82 275.79,364.83 276.51,364.84 277.23,364.85 277.94,364.86 278.66,364.86 279.38,364.87 280.09,364.87 280.81,364.88 281.53,364.88 282.24,364.88 282.96,364.89 283.68,364.89 284.39,364.89 285.11,364.89 285.83,364.89 286.55,364.89 287.26,364.90 287.98,364.90 288.70,364.90 289.41,364.90 290.13,364.90 290.85,364.90 291.56,364.90 292.28,364.90 293.00,364.90 293.71,364.90 294.43,364.90 295.15,364.90 295.86,364.90 296.58,364.90 297.30,364.90 298.01,364.90 298.73,364.90 299.45,364.90 300.16,364.90 300.88,364.90 301.60,364.90 302.31,364.90 303.03,364.90 303.75,364.90 304.46,364.90 305.18,364.90 305.90,364.90 306.62,364.90 307.33,364.90 308.05,364.90 308.77,364.90 309.48,364.90 310.20,364.90 310.92,364.90 311.63,364.90 312.35,364.90 313.07,364.90 313.78,364.90 314.50,364.90" fill="none" stroke="#0000ff" stroke-width="2.7" stroke-linejoin="round"/>
<polyline points="28.50,364.89 29.22,364.89 29.93,364.89 30.65,364.89 31.37,364.88 32.08,364.88 32.80,364.88 33.52,364.88 34.23,364.88 34.95,364.88 35.67,364.88 36.38,364.88 37.10,364.88 37.82,364.88 38.54,364.88 39.25,364.88 39.97,364.88 40.69,364.88 41.40,364.88 42.12,364.87 42.84,364.87 43.55,364.87 44.27,364.87 44.99,364.87 45.70,364.87 46.42,364.87 47.14,364.87 47.85,364.87 48.57,364.87 49.29,364.86 50.00,364.86 50.72,364.86 51.44,364.86 52.15,364.86 52.87,364.86 53.59,364.86 54.30,364.85 55.02,364.85 55.74,364.85 56.45,364.85 57.17,364.85 57.89,364.85 58.61,364.84 59.32,364.84 60.04,364.84 60.76,364.84 61.47,364.84 62.19,364.83 62.91,364.83 63.62,364.83 64.34,364.83 65.06,364.82 65.77,364.82 66.49,364.82 67.21,364.82 67.92,364.81 68.64,364.81 69.36,364.81 70.07,364.80 70.79,364.80 71.51,364.80 72.22,364.79 72.94,364.79 73.66,364.78 74.37,364.78 75.09,364.78 75.81,364.77 76.53,364.77 77.24,364.76 77.96,364.76 78.68,364.75 79.39,364.75 80.11,364.74 80.83,364.74 81.54,364.73 82.26,364.73 82.98,364.72 83.69,364.71 84.41,364.71 85.13,364.70 85.84,364.69 86.56,364.69 87.28,364.68 87.99,364.67 88.71,364.66 89.43,364.65 90.14,364.65 90.86,364.64 91.58,364.63 92.29,364.62 93.01,364.61 93.73,364.60 94.44,364.59 95.16,364.58 95.88,364.56 96.60,364.55 97.31,364.54 98.03,364.53 98.75,364.52 99.46,364.50 100.18,364.49 100.90,364.47 101.61,364.46 102.33,364.44 103.05,364.43 103.76,364.41 104.48,364.39 105.20,364.38 105.91,364.36 106.63,364.34 107.35,364.32 108.06,364.30 108.78,364.28 109.50,364.26 110.21,364.24 110.93,364.21 111.65,364.19 112.36,364.17 113.08,364.14 113.80,364.11 114.52,364.09 115.23,364.06 115.95,364.03 116.67,364.00 117.38,363.97 118.10,363.94 118.82,363.91 119.53,363.87 120.25,363.84 120.97,363.80 121.68,363.76 122.40,363.72 123.12,363.68 123.83,363.64 124.55,363.60 125.27,363.56 125.98,363.51 126.70,363.46 127.42,363.42 128.13,363.37 128.85,363.32 129.57,363.26 130.28,363.21 131.00,363.15 131.72,363.09 132.43,363.03 133.15,362.97 133.87,362.91 134.59,362.84 135.30,362.77 136.02,362.70 136.74,362.63 137.45,362.56 138.17,362.48 138.89,362.40 139.60,362.32 140.32,362.24 141.04,362.15 141.75,362.07 142.47,361.97 143.19,361.88 143.90,361.78 144.62,361.69 145.34,361.58 146.05,361.48 146.77,361.37 147.49,361.26 148.20,361.15 148.92,361.03 149.64,360.91 150.35,360.79 151.07,360.67 151.79,360.54 152.51,360.40 153.22,360.27 153.94,360.13 154.66,359.99 155.37,359.84 156.09,359.69 156.81,359.54 157.52,359.38 158.24,359.22 158.96,359.06 159.67,358.89 160.39,358.72 161.11,358.54 161.82,358.36 162.54,358.18 163.26,357.99 163.97,357.80 164.69,357.61 165.41,357.41 166.12,357.21 166.84,357.00 167.56,356.79 168.27,356.58 168.99,356.36 169.71,356.14 170.42,355.92 171.14,355.69 171.86,355.46 172.58,355.22 173.29,354.98 174.01,354.73 174.73,354.49 175.44,354.23 176.16,353.98 176.88,353.72 177.59,353.46 178.31,353.19 179.03,352.92 179.74,352.64 180.46,352.37 181.18,352.08 181.89,351.80 182.61,351.51 183.33,351.21 184.04,350.92 184.76,350.61 185.48,350.31 186.19,350.00 186.91,349.68 187.63,349.37 188.34,349.04 189.06,348.71 189.78,348.38 190.49,348.05 191.21,347.70 191.93,347.36 192.65,347.01 193.36,346.65 194.08,346.29 194.80,345.92 195.51,345.55 196.23,345.17 196.95,344.79 197.66,344.40 198.38,344.01 199.10,343.61 199.81,343.21 200.53,342.80 201.25,342.38 201.96,341.96 202.68,341.53 203.40,341.10 204.11,340.66 204.83,340.22 205.55,339.78 206.26,339.33 206.98,338.87 207.70,338.41 208.41,337.95 209.13,337.49 209.85,337.02 210.57,336.56 211.28,336.09 212.00,335.62 212.72,335.15 213.43,334.68 214.15,334.22 214.87,333.76 215.58,333.30 216.30,332.84 217.02,332.40 217.73,331.95 218.45,331.52 219.17,331.10 219.88,330.68 220.60,330.28 221.32,329.89 222.03,329.51 222.75,329.15 223.47,328.81 224.18,328.48 224.90,328.18 225.62,327.89 226.33,327.63 227.05,327.39 227.77,327.18 228.48,326.99 229.20,326.83 229.92,326.70 230.64,326.60 231.35,326.54 232.07,326.50 232.79,326.51 233.50,326.54 234.22,326.62 234.94,326.73 235.65,326.88 236.37,327.07 237.09,327.29 237.80,327.56 238.52,327.87 239.24,328.22 239.95,328.61 240.67,329.03 241.39,329.50 242.10,330.01 242.82,330.55 243.54,331.14 244.25,331.75 244.97,332.41 245.69,333.09 246.40,333.81 247.12,334.56 247.84,335.33 248.56,336.14 249.27,336.96 249.99,337.81 250.71,338.67 251.42,339.55 252.14,340.45 252.86,341.35 253.57,342.27 254.29,343.19 255.01,344.11 255.72,345.03 256.44,345.95 257.16,346.86 257.87,347.77 258.59,348.66 259.31,349.55 260.02,350.41 260.74,351.26 261.46,352.09 262.17,352.90 262.89,353.68 263.61,354.44 264.32,355.18 265.04,355.89 265.76,356.57 266.47,357.22 267.19,357.84 267.91,358.43 268.63,358.99 269.34,359.51 270.06,360.01 270.78,360.48 271.49,360.92 272.21,361.32 272.93,361.70 273.64,362.05 274.36,362.37 275.08,362.66 275.79,362.93 276.51,363.18 277.23,363.40 277.94,363.60 278.66,363.78 279.38,363.93 280.09,364.08 280.81,364.20 281.53,364.31 282.24,364.40 282.96,364.49 283.68,364.56 284.39,364.62 285.11,364.67 285.83,364.71 286.55,364.75 287.26,364.78 287.98,364.80 288.70,364.82 289.41,364.84 290.13,364.85 290.85,364.86 291.56,364.87 292.28,364.88 293.00,364.89 293.71,364.89 294.43,364.89 295.15,364.89 295.86,364.90 296.58,364.90 297.30,364.90 298.01,364.90 298.73,364.90 299.45,364.90 300.16,364.90 300.88,364.90 301.60,364.90 302.31,364.90 303.03,364.90 303.75,364.90 304.46,364.90 305.18,364.90 305.90,364.90 306.62,364.90 307.33,364.90 308.05,364.90 308.77,364.90 309.48,364.90 310.20,364.90 310.92,364.90 311.63,364.90 312.35,364.90 313.07,364.90 313.78,364.90 314.50,364.90" fill="none" stroke="#00ff00" stroke-width="2.7" stroke-linejoin="round"/>
<polyline points="28.50,364.90 29.22,364.90 29.93,364.90 30.65,364.90 31.37,364.90 32.08,364.90 32.80,364.90 33.52,364.90 34.23,364.90 34.95,364.90 35.67,364.90 36.38,364.90 37.10,364.90 37.82,364.90 38.54,364.90 39.25,364.90 39.97,364.90 40.69,364.90 41.40,364.90 42.12,364.90 42.84,364.90 43.55,364.90 44.27,364.90 44.99,364.90 45.70,364.90 46.42,364.90 47.14,364.90 47.85,364.90 48.57,364.90 49.29,364.90 50.00,364.90 50.72,364.90 51.44,364.90 52.15,364.90 52.87,364.90 53.59,364.90 54.30,364.90 55.02,364.90 55.74,364.90 56.45,364.90 57.17,364.90 57.89,364.90 58.61,364.90 59.32,364.90 60.04,364.90 60.76,364.90 61.47,364.90 62.19,364.90 62.91,364.90 63.62,364.90 64.34,364.90 65.06,364.90 65.77,364.90 66.49,364.90 67.21,364.90 67.92,364.90 68.64,364.90 69.36,364.90 70.07,364.90 70.79,364.90 71.51,364.90 72.22,364.90 72.94,364.90 73.66,364.90 74.37,364.90 75.09,364.90 75.81,364.90 76.53,364.90 77.24,364.90 77.96,364.90 78.68,364.90 79.39,364.90 80.11,364.90 80.83,364.90 81.54,364.90 82.26,364.90 82.98,364.90 83.69,364.90 84.41,364.90 85.13,364.90 85.84,364.90 86.56,364.90 87.28,364.90 87.99,364.90 88.71,364.90 89.43,364.90 90.14,364.90 90.86,364.90 91.58,364.90 92.29,364.90 93.01,364.90 93.73,364.90 94.44,364.90 95.16,364.90 95.88,364.90 96.60,364.90 97.31,364.90 98.03,364.90 98.75,364.90 99.46,364.90 100.18,364.90 100.90,364.89 101.61,364.89 102.33,364.89 103.05,364.89 103.76,364.89 104.48,364.89 105.20,364.89 105.91,364.89 106.63,364.89 107.35,364.89 108.06,364.89 108.78,364.89 109.50,364.89 110.21,364.89 110.93,364.89 111.65,364.89 112.36,364.88 113.08,364.88 113.80,364.88 114.52,364.88 115.23,364.88 115.95,364.88 116.67,364.88 117.38,364.88 118.10,364.87 118.82,364.87 119.53,364.87 120.25,364.87 120.97,364.87 121.68,364.86 122.40,364.86 123.12,364.86 123.83,364.85 124.55,364.85 125.27,364.85 125.98,364.84 126.70,364.84 127.42,364.84 128.13,364.83 128.85,364.83 129.57,364.82 130.28,364.82 131.00,364.81 131.72,364.81 132.43,364.80 133.15,364.79 133.87,364.78 134.59,364.78 135.30,364.77 136.02,364.76 136.74,364.75 137.45,364.74 138.17,364.73 138.89,364.72 139.60,364.70 140.32,364.69 141.04,364.67 141.75,364.66 142.47,364.64 143.19,364.63 143.90,364.61 144.62,364.59 145.34,364.57 146.05,364.54 146.77,364.52 147.49,364.49 148.20,364.47 148.92,364.44 149.64,364.41 150.35,364.37 151.07,364.34 151.79,364.30 152.51,364.26 153.22,364.22 153.94,364.18 154.66,364.13 155.37,364.08 156.09,364.02 156.81,363.97 157.52,363.91 158.24,363.84 158.96,363.78 159.67,363.70 160.39,363.63 161.11,363.55 161.82,363.46 162.54,363.37 163.26,363.28 163.97,363.18 164.69,363.07 165.41,362.96 166.12,362.84 166.84,362.71 167.56,362.58 168.27,362.44 168.99,362.29 169.71,362.13 170.42,361.97 171.14,361.79 171.86,361.61 172.58,361.42 173.29,361.22 174.01,361.01 174.73,360.78 175.44,360.55 176.16,360.30 176.88,360.05 177.59,359.78 178.31,359.50 179.03,359.20 179.74,358.89 180.46,358.57 181.18,358.23 181.89,357.88 182.61,357.51 183.33,357.13 184.04,356.73 184.76,356.31 185.48,355.88 186.19,355.43 186.91,354.96 187.63,354.47 188.34,353.97 189.06,353.44 189.78,352.90 190.49,352.34 191.21,351.75 191.93,351.15 192.65,350.52 193.36,349.88 194.08,349.21 194.80,348.53 195.51,347.82 196.23,347.09 196.95,346.33 197.66,345.56 198.38,344.76 199.10,343.93 199.81,343.09 200.53,342.22 201.25,341.33 201.96,340.41 202.68,339.47 203.40,338.51 204.11,337.52 204.83,336.51 205.55,335.48 206.26,334.42 206.98,333.33 207.70,332.22 208.41,331.09 209.13,329.93 209.85,328.75 210.57,327.55 211.28,326.32 212.00,325.06 212.72,323.79 213.43,322.49 214.15,321.16 214.87,319.82 215.58,318.45 216.30,317.06 217.02,315.65 217.73,314.22 218.45,312.77 219.17,311.29 219.88,309.80 220.60,308.29 221.32,306.77 222.03,305.23 222.75,303.67 223.47,302.09 224.18,300.51 224.90,298.91 225.62,297.30 226.33,295.68 227.05,294.04 227.77,292.41 228.48,290.76 229.20,289.11 229.92,287.46 230.64,285.80 231.35,284.14 232.07,282.48 232.79,280.82 233.50,279.17 234.22,277.52 234.94,275.87 235.65,274.24 236.37,272.60 237.09,270.98 237.80,269.37 238.52,267.77 239.24,266.19 239.95,264.61 240.67,263.06 241.39,261.51 242.10,259.99 242.82,258.48 243.54,256.99 244.25,255.52 244.97,254.07 245.69,252.64 246.40,251.23 247.12,249.85 247.84,248.48 248.56,247.14 249.27,245.82 249.99,244.52 250.71,243.25 251.42,242.00 252.14,240.78 252.86,239.57 253.57,238.40 254.29,237.25 255.01,236.12 255.72,235.02 256.44,233.95 257.16,232.90 257.87,231.88 258.59,230.89 259.31,229.93 260.02,228.99 260.74,228.08 261.46,227.21 262.17,226.36 262.89,225.54 263.61,224.75 264.32,224.00 265.04,223.28 265.76,222.58 266.47,221.92 267.19,221.30 267.91,220.70 268.63,220.14 269.34,219.60 270.06,219.10 270.78,218.63 271.49,218.20 272.21,217.79 272.93,217.41 273.64,217.06 274.36,216.74 275.08,216.45 275.79,216.18 276.51,215.93 277.23,215.71 277.94,215.51 278.66,215.33 279.38,215.18 280.09,215.03 280.81,214.91 281.53,214.80 282.24,214.71 282.96,214.62 283.68,214.55 284.39,214.49 285.11,214.44 285.83,214.40 286.55,214.36 287.26,214.33 287.98,214.31 288.70,214.29 289.41,214.27 290.13,214.26 290.85,214.24 291.56,214.24 292.28,214.23 293.00,214.22 293.71,214.22 294.43,214.22 295.15,214.22 295.86,214.21 296.58,214.21 297.30,214.21 298.01,214.21 298.73,214.21 299.45,214.21 300.16,214.21 300.88,214.21 301.60,214.21 302.31,214.21 303.03,214.21 303.75,214.21 304.46,214.21 305.18,214.21 305.90,214.21 306.62,214.21 307.33,214.21 308.05,214.21 308.77,214.21 309.48,214.21 310.20,214.21 310.92,214.21 311.63,214.21 312.35,214.21 313.07,214.21 313.78,214.21 314.50,214.21" fill="none" stroke="#ff0000" stroke-width="2.7" stroke-linejoin="round"/>
<polyline points="28.50,364.89 29.22,364.89 29.93,364.89 30.65,364.89 31.37,364.88 32.08,364.88 32.80,364.88 33.52,364.88 34.23,364.88 34.95,364.88 35.67,364.88 36.38,364.88 37.10,364.88 37.82,364.88 38.54,364.88 39.25,364.88 39.97,364.88 40.69,364.88 41.40,364.88 42.12,364.87 42.84,364.87 43.55,364.87 44.27,364.87 44.99,364.87 45.70,364.87 46.42,364.87 47.14,364.87 47.85,364.87 48.57,364.87 49.29,364.86 50.00,364.86 50.72,364.86 51.44,364.86 52.15,364.86 52.87,364.86 53.59,364.86 54.30,364.85 55.02,364.85 55.74,364.85 56.45,364.85 57.17,364.85 57.89,364.85 58.61,364.84 59.32,364.84 60.04,364.84 60.76,364.84 61.47,364.84 62.19,364.83 62.91,364.83 63.62,364.83 64.34,364.83 65.06,364.82 65.77,364.82 66.49,364.82 67.21,364.82 67.92,364.81 68.64,364.81 69.36,364.81 70.07,364.80 70.79,364.80 71.51,364.80 72.22,364.79 72.94,364.79 73.66,364.78 74.37,364.78 75.09,364.78 75.81,364.77 76.53,364.77 77.24,364.76 77.96,364.76 78.68,364.75 79.39,364.75 80.11,364.74 80.83,364.74 81.54,364.73 82.26,364.72 82.98,364.72 83.69,364.71 84.41,364.71 85.13,364.70 85.84,364.69 86.56,364.68 87.28,364.68 87.99,364.67 88.71,364.66 89.43,364.65 90.14,364.64 90.86,364.63 91.58,364.62 92.29,364.62 93.01,364.61 93.73,364.59 94.44,364.58 95.16,364.57 95.88,364.56 96.60,364.55 97.31,364.54 98.03,364.52 98.75,364.51 99.46,364.50 100.18,364.48 100.90,364.47 101.61,364.45 102.33,364.44 103.05,364.42 103.76,364.40 104.48,364.39 105.20,364.37 105.91,364.35 106.63,364.33 107.35,364.31 108.06,364.29 108.78,364.27 109.50,364.25 110.21,364.22 110.93,364.20 111.65,364.18 112.36,364.15 113.08,364.12 113.80,364.10 114.52,364.07 115.23,364.04 115.95,364.01 116.67,363.98 117.38,363.95 118.10,363.91 118.82,363.88 119.53,363.84 120.25,363.80 120.97,363.77 121.68,363.73 122.40,363.68 123.12,363.64 123.83,363.60 124.55,363.55 125.27,363.51 125.98,363.46 126.70,363.41 127.42,363.35 128.13,363.30 128.85,363.24 129.57,363.19 130.28,363.12 131.00,363.06 131.72,363.00 132.43,362.93 133.15,362.86 133.87,362.79 134.59,362.72 135.30,362.64 136.02,362.56 136.74,362.48 137.45,362.40 138.17,362.31 138.89,362.22 139.60,362.13 140.32,362.03 141.04,361.93 141.75,361.82 142.47,361.72 143.19,361.61 143.90,361.49 144.62,361.37 145.34,361.25 146.05,361.12 146.77,360.99 147.49,360.86 148.20,360.72 148.92,360.57 149.64,360.42 150.35,360.26 151.07,360.10 151.79,359.94 152.51,359.77 153.22,359.59 153.94,359.40 154.66,359.22 155.37,359.02 156.09,358.82 156.81,358.61 157.52,358.39 158.24,358.16 158.96,357.93 159.67,357.69 160.39,357.45 161.11,357.19 161.82,356.93 162.54,356.65 163.26,356.37 163.97,356.08 164.69,355.78 165.41,355.47 166.12,355.15 166.84,354.81 167.56,354.47 168.27,354.12 168.99,353.75 169.71,353.37 170.42,352.98 171.14,352.58 171.86,352.17 172.58,351.74 173.29,351.30 174.01,350.84 174.73,350.37 175.44,349.88 176.16,349.38 176.88,348.87 177.59,348.33 178.31,347.79 179.03,347.22 179.74,346.64 180.46,346.03 181.18,345.41 181.89,344.78 182.61,344.12 183.33,343.44 184.04,342.74 184.76,342.02 185.48,341.29 186.19,340.52 186.91,339.74 187.63,338.94 188.34,338.11 189.06,337.26 189.78,336.38 190.49,335.48 191.21,334.56 191.93,333.61 192.65,332.63 193.36,331.63 194.08,330.60 194.80,329.55 195.51,328.47 196.23,327.36 196.95,326.22 197.66,325.06 198.38,323.87 199.10,322.64 199.81,321.39 200.53,320.12 201.25,318.81 201.96,317.47 202.68,316.11 203.40,314.71 204.11,313.29 204.83,311.83 205.55,310.35 206.26,308.84 206.98,307.30 207.70,305.74 208.41,304.14 209.13,302.52 209.85,300.88 210.57,299.20 211.28,297.51 212.00,295.78 212.72,294.04 213.43,292.27 214.15,290.48 214.87,288.68 215.58,286.85 216.30,285.01 217.02,283.15 217.73,281.27 218.45,279.39 219.17,277.49 219.88,275.58 220.60,273.67 221.32,271.76 222.03,269.84 222.75,267.92 223.47,266.00 224.18,264.09 224.90,262.18 225.62,260.29 226.33,258.40 227.05,256.53 227.77,254.68 228.48,252.85 229.20,251.04 229.92,249.26 230.64,247.50 231.35,245.78 232.07,244.09 232.79,242.43 233.50,240.81 234.22,239.24 234.94,237.70 235.65,236.21 236.37,234.77 237.09,233.38 237.80,232.03 238.52,230.74 239.24,229.50 239.95,228.32 240.67,227.19 241.39,226.12 242.10,225.10 242.82,224.14 243.54,223.23 244.25,222.38 244.97,221.58 245.69,220.84 246.40,220.15 247.12,219.51 247.84,218.92 248.56,218.38 249.27,217.88 249.99,217.43 250.71,217.02 251.42,216.65 252.14,216.32 252.86,216.03 253.57,215.77 254.29,215.53 255.01,215.33 255.72,215.15 256.44,215.00 257.16,214.87 257.87,214.75 258.59,214.65 259.31,214.57 260.02,214.50 260.74,214.44 261.46,214.40 262.17,214.36 262.89,214.33 263.61,214.30 264.32,214.28 265.04,214.26 265.76,214.25 266.47,214.24 267.19,214.23 267.91,214.23 268.63,214.22 269.34,214.22 270.06,214.22 270.78,214.21 271.49,214.21 272.21,214.21 272.93,214.21 273.64,214.21 274.36,214.21 275.08,214.21 275.79,214.21 276.51,214.21 277.23,214.21 277.94,214.21 278.66,214.21 279.38,214.21 280.09,214.21 280.81,214.21 281.53,214.21 282.24,214.21 282.96,214.21 283.68,214.21 284.39,214.21 285.11,214.21 285.83,214.21 286.55,214.21 287.26,214.21 287.98,214.21 288.70,214.21 289.41,214.21 290.13,214.21 290.85,214.21 291.56,214.21 292.28,214.21 293.00,214.21 293.71,214.21 294.43,214.21 295.15,214.21 295.86,214.21 296.58,214.21 297.30,214.21 298.01,214.21 298.73,214.21 299.45,214.21 300.16,214.21 300.88,214.21 301.60,214.21 302.31,214.21 303.03,214.21 303.75,214.21 304.46,214.21 305.18,214.21 305.90,214.21 306.62,214.21 307.33,214.21 308.05,214.21 308.77,214.21 309.48,214.21 310.20,214.21 310.92,214.21 311.63,214.21 312.35,214.21 313.07,214.21 313.78,214.21 314.50,214.21" fill="none" stroke="#ff00ff" stroke-width="2.7" stroke-linejoin="round"/>
</svg>
<text x="21.11" y="376.80" style="font-family:&quot;Liberation Sans&quot;,sans-serif;stroke:#000;stroke-width:0.22px;font-size:8.00px"> 0</text><path transform="translate(21.11 376.80) scale(0.003906 -0.003906)" d="M515 0V1237L197 1010V1180L530 1409H696V0Z" stroke="#000" stroke-width="56.3"/><text x="29.71" y="372.20" style="font-family:&quot;Liberation Sans&quot;,sans-serif;stroke:#000;stroke-width:0.22px;font-size:5.60px">−2</text>
<text x="68.78" y="376.80" style="font-family:&quot;Liberation Sans&quot;,sans-serif;stroke:#000;stroke-width:0.22px;font-size:8.00px"> 0</text><path transform="translate(68.78 376.80) scale(0.003906 -0.003906)" d="M515 0V1237L197 1010V1180L530 1409H696V0Z" stroke="#000" stroke-width="56.3"/><text x="77.37" y="372.20" style="font-family:&quot;Liberation Sans&quot;,sans-serif;stroke:#000;stroke-width:0.22px;font-size:5.60px">− </text><path transform="translate(80.64 372.20) scale(0.002734 -0.002734)" d="M515 0V1237L197 1010V1180L530 1409H696V0Z" stroke="#000" stroke-width="80.5"/>
<text x="118.08" y="376.80" style="font-family:&quot;Liberation Sans&quot;,sans-serif;stroke:#000;stroke-width:0.22px;font-size:8.00px"> 0</text><path transform="translate(118.08 376.80) scale(0.003906 -0.003906)" d="M515 0V1237L197 1010V1180L530 1409H696V0Z" stroke="#000" stroke-width="56.3"/><text x="126.68" y="372.20" style="font-family:&quot;Liberation Sans&quot;,sans-serif;stroke:#000;stroke-width:0.22px;font-size:5.60px">0</text>
<text x="165.74" y="376.80" style="font-family:&quot;Liberation Sans&quot;,sans-serif;stroke:#000;stroke-width:0.22px;font-size:8.00px"> 0</text><path transform="translate(165.74 376.80) scale(0.003906 -0.003906)" d="M515 0V1237L197 1010V1180L530 1409H696V0Z" stroke="#000" stroke-width="56.3"/><path transform="translate(174.34 372.20) scale(0.002734 -0.002734)" d="M515 0V1237L197 1010V1180L530 1409H696V0Z" stroke="#000" stroke-width="80.5"/>
<text x="213.41" y="376.80" style="font-family:&quot;Liberation Sans&quot;,sans-serif;stroke:#000;stroke-width:0.22px;font-size:8.00px"> 0</text><path transform="translate(213.41 376.80) scale(0.003906 -0.003906)" d="M515 0V1237L197 1010V1180L530 1409H696V0Z" stroke="#000" stroke-width="56.3"/><text x="222.01" y="372.20" style="font-family:&quot;Liberation Sans&quot;,sans-serif;stroke:#000;stroke-width:0.22px;font-size:5.60px">2</text>
<text x="261.08" y="376.80" style="font-family:&quot;Liberation Sans&quot;,sans-serif;stroke:#000;stroke-width:0.22px;font-size:8.00px"> 0</text><path transform="translate(261.08 376.80) scale(0.003906 -0.003906)" d="M515 0V1237L197 1010V1180L530 1409H696V0Z" stroke="#000" stroke-width="56.3"/><text x="269.68" y="372.20" style="font-family:&quot;Liberation Sans&quot;,sans-serif;stroke:#000;stroke-width:0.22px;font-size:5.60px">3</text>
<text x="308.74" y="376.80" style="font-family:&quot;Liberation Sans&quot;,sans-serif;stroke:#000;stroke-width:0.22px;font-size:8.00px"> 0</text><path transform="translate(308.74 376.80) scale(0.003906 -0.003906)" d="M515 0V1237L197 1010V1180L530 1409H696V0Z" stroke="#000" stroke-width="56.3"/><text x="317.34" y="372.20" style="font-family:&quot;Liberation Sans&quot;,sans-serif;stroke:#000;stroke-width:0.22px;font-size:5.60px">4</text>
<text x="21.25" y="368.00" style="font-family:&quot;Liberation Sans&quot;,sans-serif;stroke:#000;stroke-width:0.22px;font-size:8.00px">0</text>
<text x="14.58" y="350.89" style="font-family:&quot;Liberation Sans&quot;,sans-serif;stroke:#000;stroke-width:0.22px;font-size:8.00px">0.5</text>
<path transform="translate(21.25 333.79) scale(0.003906 -0.003906)" d="M515 0V1237L197 1010V1180L530 1409H696V0Z" stroke="#000" stroke-width="56.3"/>
<text x="14.58" y="316.69" style="font-family:&quot;Liberation Sans&quot;,sans-serif;stroke:#000;stroke-width:0.22px;font-size:8.00px"> .5</text><path transform="translate(14.58 316.69) scale(0.003906 -0.003906)" d="M515 0V1237L197 1010V1180L530 1409H696V0Z" stroke="#000" stroke-width="56.3"/>
<text x="21.25" y="299.58" style="font-family:&quot;Liberation Sans&quot;,sans-serif;stroke:#000;stroke-width:0.22px;font-size:8.00px">2</text>
<text x="14.58" y="282.48" style="font-family:&quot;Liberation Sans&quot;,sans-serif;stroke:#000;stroke-width:0.22px;font-size:8.00px">2.5</text>
<text x="21.25" y="265.37" style="font-family:&quot;Liberation Sans&quot;,sans-serif;stroke:#000;stroke-width:0.22px;font-size:8.00px">3</text>
<text x="14.58" y="248.26" style="font-family:&quot;Liberation Sans&quot;,sans-serif;stroke:#000;stroke-width:0.22px;font-size:8.00px">3.5</text>
<text x="21.25" y="231.16" style="font-family:&quot;Liberation Sans&quot;,sans-serif;stroke:#000;stroke-width:0.22px;font-size:8.00px">4</text>
<text x="14.58" y="214.05" style="font-family:&quot;Liberation Sans&quot;,sans-serif;stroke:#000;stroke-width:0.22px;font-size:8.00px">4.5</text>
<text x="28.60" y="208.15" style="font-family:&quot;Liberation Sans&quot;,sans-serif;stroke:#000;stroke-width:0.22px;font-size:7.70px">x  0</text><path transform="translate(34.59 208.15) scale(0.003760 -0.003760)" d="M515 0V1237L197 1010V1180L530 1409H696V0Z" stroke="#000" stroke-width="58.5"/><text x="43.15" y="203.45" style="font-family:&quot;Liberation Sans&quot;,sans-serif;stroke:#000;stroke-width:0.22px;font-size:5.40px">−  </text><path transform="translate(46.31 203.45) scale(0.002637 -0.002637)" d="M515 0V1237L197 1010V1180L530 1409H696V0Z" stroke="#000" stroke-width="83.4"/><path transform="translate(49.31 203.45) scale(0.002637 -0.002637)" d="M515 0V1237L197 1010V1180L530 1409H696V0Z" stroke="#000" stroke-width="83.4"/>
<text x="171.50" y="204.95" text-anchor="middle" style="font-family:&quot;Liberation Serif&quot;,serif;stroke:#000;stroke-width:0.32px;font-size:9.6px">N2O</text>
<text x="171.50" y="387.40" text-anchor="middle" style="font-family:&quot;Liberation Serif&quot;,serif;stroke:#000;stroke-width:0.32px;font-size:9.6px">Time–Horizon (years)</text>
<text transform="translate(9.90 287.92) rotate(-90)" text-anchor="middle" style="font-family:&quot;Liberation Serif&quot;,serif;stroke:#000;stroke-width:0.32px;font-size:9.6px">Absolute metric (Wm<tspan dy="-4.1" style="font-size:6.6px">−2</tspan><tspan dy="4.1">yr)</tspan></text>
<g stroke="#444" stroke-width="0.9" stroke-dasharray="1 2.6"><line x1="370.28" y1="211.80" x2="370.28" y2="364.10"/><line x1="378.69" y1="211.80" x2="378.69" y2="364.10"/><line x1="384.66" y1="211.80" x2="384.66" y2="364.10"/><line x1="389.29" y1="211.80" x2="389.29" y2="364.10"/><line x1="393.07" y1="211.80" x2="393.07" y2="364.10"/><line x1="396.27" y1="211.80" x2="396.27" y2="364.10"/><line x1="399.04" y1="211.80" x2="399.04" y2="364.10"/><line x1="401.48" y1="211.80" x2="401.48" y2="364.10"/><line x1="403.67" y1="211.80" x2="403.67" y2="364.10"/><line x1="418.05" y1="211.80" x2="418.05" y2="364.10"/><line x1="426.46" y1="211.80" x2="426.46" y2="364.10"/><line x1="432.43" y1="211.80" x2="432.43" y2="364.10"/><line x1="437.05" y1="211.80" x2="437.05" y2="364.10"/><line x1="440.84" y1="211.80" x2="440.84" y2="364.10"/><line x1="444.03" y1="211.80" x2="444.03" y2="364.10"/><line x1="446.80" y1="211.80" x2="446.80" y2="364.10"/><line x1="449.25" y1="211.80" x2="449.25" y2="364.10"/><line x1="451.43" y1="211.80" x2="451.43" y2="364.10"/><line x1="465.81" y1="211.80" x2="465.81" y2="364.10"/><line x1="474.22" y1="211.80" x2="474.22" y2="364.10"/><line x1="480.19" y1="211.80" x2="480.19" y2="364.10"/><line x1="484.82" y1="211.80" x2="484.82" y2="364.10"/><line x1="488.60" y1="211.80" x2="488.60" y2="364.10"/><line x1="491.80" y1="211.80" x2="491.80" y2="364.10"/><line x1="494.57" y1="211.80" x2="494.57" y2="364.10"/><line x1="497.01" y1="211.80" x2="497.01" y2="364.10"/><line x1="499.20" y1="211.80" x2="499.20" y2="364.10"/><line x1="513.58" y1="211.80" x2="513.58" y2="364.10"/><line x1="521.99" y1="211.80" x2="521.99" y2="364.10"/><line x1="527.96" y1="211.80" x2="527.96" y2="364.10"/><line x1="532.59" y1="211.80" x2="532.59" y2="364.10"/><line x1="536.37" y1="211.80" x2="536.37" y2="364.10"/><line x1="539.57" y1="211.80" x2="539.57" y2="364.10"/><line x1="542.34" y1="211.80" x2="542.34" y2="364.10"/><line x1="544.78" y1="211.80" x2="544.78" y2="364.10"/><line x1="546.97" y1="211.80" x2="546.97" y2="364.10"/><line x1="561.35" y1="211.80" x2="561.35" y2="364.10"/><line x1="569.76" y1="211.80" x2="569.76" y2="364.10"/><line x1="575.73" y1="211.80" x2="575.73" y2="364.10"/><line x1="580.35" y1="211.80" x2="580.35" y2="364.10"/><line x1="584.14" y1="211.80" x2="584.14" y2="364.10"/><line x1="587.33" y1="211.80" x2="587.33" y2="364.10"/><line x1="590.10" y1="211.80" x2="590.10" y2="364.10"/><line x1="592.55" y1="211.80" x2="592.55" y2="364.10"/><line x1="594.73" y1="211.80" x2="594.73" y2="364.10"/><line x1="609.11" y1="211.80" x2="609.11" y2="364.10"/><line x1="617.52" y1="211.80" x2="617.52" y2="364.10"/><line x1="623.49" y1="211.80" x2="623.49" y2="364.10"/><line x1="628.12" y1="211.80" x2="628.12" y2="364.10"/><line x1="631.90" y1="211.80" x2="631.90" y2="364.10"/><line x1="635.10" y1="211.80" x2="635.10" y2="364.10"/><line x1="637.87" y1="211.80" x2="637.87" y2="364.10"/><line x1="640.31" y1="211.80" x2="640.31" y2="364.10"/><line x1="356.90" y1="339.39" x2="641.50" y2="339.39"/><line x1="356.90" y1="313.67" x2="641.50" y2="313.67"/><line x1="356.90" y1="287.96" x2="641.50" y2="287.96"/><line x1="356.90" y1="262.24" x2="641.50" y2="262.24"/><line x1="356.90" y1="236.53" x2="641.50" y2="236.53"/></g>
<path d="M355.90 365.10v-2.6M355.90 210.80v2.6M370.28 365.10v-1.6M370.28 210.80v1.6M378.69 365.10v-1.6M378.69 210.80v1.6M384.66 365.10v-1.6M384.66 210.80v1.6M389.29 365.10v-1.6M389.29 210.80v1.6M393.07 365.10v-1.6M393.07 210.80v1.6M396.27 365.10v-1.6M396.27 210.80v1.6M399.04 365.10v-1.6M399.04 210.80v1.6M401.48 365.10v-1.6M401.48 210.80v1.6M403.67 365.10v-2.6M403.67 210.80v2.6M418.05 365.10v-1.6M418.05 210.80v1.6M426.46 365.10v-1.6M426.46 210.80v1.6M432.43 365.10v-1.6M432.43 210.80v1.6M437.05 365.10v-1.6M437.05 210.80v1.6M440.84 365.10v-1.6M440.84 210.80v1.6M444.03 365.10v-1.6M444.03 210.80v1.6M446.80 365.10v-1.6M446.80 210.80v1.6M449.25 365.10v-1.6M449.25 210.80v1.6M451.43 365.10v-2.6M451.43 210.80v2.6M465.81 365.10v-1.6M465.81 210.80v1.6M474.22 365.10v-1.6M474.22 210.80v1.6M480.19 365.10v-1.6M480.19 210.80v1.6M484.82 365.10v-1.6M484.82 210.80v1.6M488.60 365.10v-1.6M488.60 210.80v1.6M491.80 365.10v-1.6M491.80 210.80v1.6M494.57 365.10v-1.6M494.57 210.80v1.6M497.01 365.10v-1.6M497.01 210.80v1.6M499.20 365.10v-2.6M499.20 210.80v2.6M513.58 365.10v-1.6M513.58 210.80v1.6M521.99 365.10v-1.6M521.99 210.80v1.6M527.96 365.10v-1.6M527.96 210.80v1.6M532.59 365.10v-1.6M532.59 210.80v1.6M536.37 365.10v-1.6M536.37 210.80v1.6M539.57 365.10v-1.6M539.57 210.80v1.6M542.34 365.10v-1.6M542.34 210.80v1.6M544.78 365.10v-1.6M544.78 210.80v1.6M546.97 365.10v-2.6M546.97 210.80v2.6M561.35 365.10v-1.6M561.35 210.80v1.6M569.76 365.10v-1.6M569.76 210.80v1.6M575.73 365.10v-1.6M575.73 210.80v1.6M580.35 365.10v-1.6M580.35 210.80v1.6M584.14 365.10v-1.6M584.14 210.80v1.6M587.33 365.10v-1.6M587.33 210.80v1.6M590.10 365.10v-1.6M590.10 210.80v1.6M592.55 365.10v-1.6M592.55 210.80v1.6M594.73 365.10v-2.6M594.73 210.80v2.6M609.11 365.10v-1.6M609.11 210.80v1.6M617.52 365.10v-1.6M617.52 210.80v1.6M623.49 365.10v-1.6M623.49 210.80v1.6M628.12 365.10v-1.6M628.12 210.80v1.6M631.90 365.10v-1.6M631.90 210.80v1.6M635.10 365.10v-1.6M635.10 210.80v1.6M637.87 365.10v-1.6M637.87 210.80v1.6M640.31 365.10v-1.6M640.31 210.80v1.6M642.50 365.10v-2.6M642.50 210.80v2.6M355.90 365.10h2.6M642.50 365.10h-2.6M355.90 339.39h2.6M642.50 339.39h-2.6M355.90 313.67h2.6M642.50 313.67h-2.6M355.90 287.96h2.6M642.50 287.96h-2.6M355.90 262.24h2.6M642.50 262.24h-2.6M355.90 236.53h2.6M642.50 236.53h-2.6" stroke="#222" stroke-width="0.9" fill="none"/>
<rect x="355.90" y="210.80" width="286.60" height="154.30" fill="none" stroke="#333" stroke-width="1"/>
<svg x="355.40" y="210.60" width="287.60" height="155.00" viewBox="355.40 210.60 287.60 155.00" overflow="hidden">
<polyline points="355.90,365.09 356.62,365.09 357.34,365.09 358.05,365.09 358.77,365.09 359.49,365.09 360.21,365.09 360.93,365.09 361.65,365.09 362.36,365.09 363.08,365.09 363.80,365.08 364.52,365.08 365.24,365.08 365.96,365.08 366.67,365.08 367.39,365.08 368.11,365.08 368.83,365.08 369.55,365.08 370.27,365.08 370.98,365.08 371.70,365.08 372.42,365.08 373.14,365.08 373.86,365.08 374.58,365.07 375.29,365.07 376.01,365.07 376.73,365.07 377.45,365.07 378.17,365.07 378.89,365.07 379.60,365.07 380.32,365.07 381.04,365.06 381.76,365.06 382.48,365.06 383.20,365.06 383.91,365.06 384.63,365.06 385.35,365.06 386.07,365.06 386.79,365.05 387.51,365.05 388.22,365.05 388.94,365.05 389.66,365.05 390.38,365.05 391.10,365.04 391.81,365.04 392.53,365.04 393.25,365.04 393.97,365.03 394.69,365.03 395.41,365.03 396.12,365.03 396.84,365.03 397.56,365.02 398.28,365.02 399.00,365.02 399.72,365.01 400.43,365.01 401.15,365.01 401.87,365.00 402.59,365.00 403.31,365.00 404.03,364.99 404.74,364.99 405.46,364.99 406.18,364.98 406.90,364.98 407.62,364.97 408.34,364.97 409.05,364.97 409.77,364.96 410.49,364.96 411.21,364.95 411.93,364.95 412.65,364.94 413.36,364.93 414.08,364.93 414.80,364.92 415.52,364.92 416.24,364.91 416.96,364.90 417.67,364.90 418.39,364.89 419.11,364.88 419.83,364.87 420.55,364.87 421.26,364.86 421.98,364.85 422.70,364.84 423.42,364.83 424.14,364.82 424.86,364.81 425.57,364.80 426.29,364.79 427.01,364.78 427.73,364.77 428.45,364.76 429.17,364.75 429.88,364.74 430.60,364.72 431.32,364.71 432.04,364.70 432.76,364.68 433.48,364.67 434.19,364.66 434.91,364.64 435.63,364.62 436.35,364.61 437.07,364.59 437.79,364.57 438.50,364.56 439.22,364.54 439.94,364.52 440.66,364.50 441.38,364.48 442.10,364.46 442.81,364.44 443.53,364.41 444.25,364.39 444.97,364.37 445.69,364.34 446.41,364.32 447.12,364.29 447.84,364.26 448.56,364.23 449.28,364.21 450.00,364.18 450.72,364.14 451.43,364.11 452.15,364.08 452.87,364.05 453.59,364.01 454.31,363.98 455.02,363.94 455.74,363.90 456.46,363.86 457.18,363.82 457.90,363.78 458.62,363.74 459.33,363.69 460.05,363.65 460.77,363.60 461.49,363.55 462.21,363.50 462.93,363.45 463.64,363.40 464.36,363.35 465.08,363.29 465.80,363.24 466.52,363.18 467.24,363.12 467.95,363.06 468.67,362.99 469.39,362.93 470.11,362.86 470.83,362.80 471.55,362.73 472.26,362.66 472.98,362.58 473.70,362.51 474.42,362.43 475.14,362.36 475.86,362.28 476.57,362.20 477.29,362.11 478.01,362.03 478.73,361.94 479.45,361.85 480.17,361.76 480.88,361.67 481.60,361.58 482.32,361.48 483.04,361.39 483.76,361.29 484.47,361.19 485.19,361.09 485.91,360.99 486.63,360.88 487.35,360.78 488.07,360.67 488.78,360.57 489.50,360.46 490.22,360.35 490.94,360.24 491.66,360.13 492.38,360.02 493.09,359.90 493.81,359.79 494.53,359.68 495.25,359.56 495.97,359.45 496.69,359.33 497.40,359.22 498.12,359.11 498.84,358.99 499.56,358.88 500.28,358.77 501.00,358.66 501.71,358.55 502.43,358.44 503.15,358.33 503.87,358.22 504.59,358.12 505.31,358.01 506.02,357.91 506.74,357.81 507.46,357.72 508.18,357.62 508.90,357.53 509.62,357.44 510.33,357.35 511.05,357.26 511.77,357.18 512.49,357.10 513.21,357.03 513.93,356.95 514.64,356.88 515.36,356.81 516.08,356.75 516.80,356.69 517.52,356.63 518.23,356.57 518.95,356.52 519.67,356.47 520.39,356.42 521.11,356.37 521.83,356.33 522.54,356.29 523.26,356.25 523.98,356.22 524.70,356.18 525.42,356.15 526.14,356.12 526.85,356.09 527.57,356.06 528.29,356.04 529.01,356.01 529.73,355.99 530.45,355.96 531.16,355.94 531.88,355.92 532.60,355.90 533.32,355.88 534.04,355.85 534.76,355.83 535.47,355.81 536.19,355.79 536.91,355.77 537.63,355.75 538.35,355.73 539.07,355.70 539.78,355.68 540.50,355.66 541.22,355.64 541.94,355.61 542.66,355.59 543.38,355.56 544.09,355.54 544.81,355.51 545.53,355.48 546.25,355.46 546.97,355.43 547.68,355.40 548.40,355.37 549.12,355.34 549.84,355.31 550.56,355.28 551.28,355.25 551.99,355.22 552.71,355.18 553.43,355.15 554.15,355.12 554.87,355.08 555.59,355.05 556.30,355.01 557.02,354.98 557.74,354.94 558.46,354.90 559.18,354.87 559.90,354.83 560.61,354.79 561.33,354.75 562.05,354.72 562.77,354.68 563.49,354.64 564.21,354.60 564.92,354.56 565.64,354.52 566.36,354.49 567.08,354.45 567.80,354.41 568.52,354.37 569.23,354.34 569.95,354.30 570.67,354.27 571.39,354.23 572.11,354.20 572.83,354.17 573.54,354.14 574.26,354.11 574.98,354.08 575.70,354.05 576.42,354.03 577.14,354.01 577.85,353.99 578.57,353.97 579.29,353.95 580.01,353.94 580.73,353.93 581.44,353.92 582.16,353.91 582.88,353.91 583.60,353.91 584.32,353.92 585.04,353.93 585.75,353.94 586.47,353.96 587.19,353.98 587.91,354.01 588.63,354.03 589.35,354.07 590.06,354.11 590.78,354.15 591.50,354.20 592.22,354.26 592.94,354.32 593.66,354.38 594.37,354.45 595.09,354.53 595.81,354.61 596.53,354.70 597.25,354.79 597.97,354.89 598.68,354.99 599.40,355.10 600.12,355.21 600.84,355.33 601.56,355.45 602.28,355.58 602.99,355.72 603.71,355.86 604.43,356.00 605.15,356.15 605.87,356.31 606.59,356.46 607.30,356.63 608.02,356.79 608.74,356.96 609.46,357.13 610.18,357.31 610.89,357.49 611.61,357.67 612.33,357.86 613.05,358.04 613.77,358.23 614.49,358.42 615.20,358.62 615.92,358.81 616.64,359.00 617.36,359.20 618.08,359.40 618.80,359.59 619.51,359.79 620.23,359.99 620.95,360.18 621.67,360.38 622.39,360.57 623.11,360.76 623.82,360.95 624.54,361.14 625.26,361.32 625.98,361.51 626.70,361.69 627.42,361.86 628.13,362.04 628.85,362.21 629.57,362.37 630.29,362.54 631.01,362.69 631.73,362.85 632.44,362.99 633.16,363.14 633.88,363.27 634.60,363.41 635.32,363.53 636.04,363.66 636.75,363.77 637.47,363.88 638.19,363.99 638.91,364.08 639.63,364.18 640.35,364.27 641.06,364.35 641.78,364.42 642.50,364.49" fill="none" stroke="#0000ff" stroke-width="2.7" stroke-linejoin="round"/>
<polyline points="355.90,365.09 356.62,365.09 357.34,365.09 358.05,365.09 358.77,365.09 359.49,365.09 360.21,365.09 360.93,365.09 361.65,365.09 362.36,365.09 363.08,365.09 363.80,365.08 364.52,365.08 365.24,365.08 365.96,365.08 366.67,365.08 367.39,365.08 368.11,365.08 368.83,365.08 369.55,365.08 370.27,365.08 370.98,365.08 371.70,365.08 372.42,365.08 373.14,365.08 373.86,365.08 374.58,365.07 375.29,365.07 376.01,365.07 376.73,365.07 377.45,365.07 378.17,365.07 378.89,365.07 379.60,365.07 380.32,365.07 381.04,365.06 381.76,365.06 382.48,365.06 383.20,365.06 383.91,365.06 384.63,365.06 385.35,365.06 386.07,365.06 386.79,365.05 387.51,365.05 388.22,365.05 388.94,365.05 389.66,365.05 390.38,365.04 391.10,365.04 391.81,365.04 392.53,365.04 393.25,365.04 393.97,365.03 394.69,365.03 395.41,365.03 396.12,365.03 396.84,365.02 397.56,365.02 398.28,365.02 399.00,365.02 399.72,365.01 400.43,365.01 401.15,365.01 401.87,365.00 402.59,365.00 403.31,365.00 404.03,364.99 404.74,364.99 405.46,364.99 406.18,364.98 406.90,364.98 407.62,364.97 408.34,364.97 409.05,364.96 409.77,364.96 410.49,364.96 411.21,364.95 411.93,364.95 412.65,364.94 413.36,364.93 414.08,364.93 414.80,364.92 415.52,364.92 416.24,364.91 416.96,364.90 417.67,364.90 418.39,364.89 419.11,364.88 419.83,364.87 420.55,364.87 421.26,364.86 421.98,364.85 422.70,364.84 423.42,364.83 424.14,364.82 424.86,364.81 425.57,364.80 426.29,364.79 427.01,364.78 427.73,364.77 428.45,364.76 429.17,364.75 429.88,364.73 430.60,364.72 431.32,364.71 432.04,364.69 432.76,364.68 433.48,364.67 434.19,364.65 434.91,364.64 435.63,364.62 436.35,364.60 437.07,364.59 437.79,364.57 438.50,364.55 439.22,364.53 439.94,364.51 440.66,364.49 441.38,364.47 442.10,364.45 442.81,364.43 443.53,364.40 444.25,364.38 444.97,364.35 445.69,364.33 446.41,364.30 447.12,364.27 447.84,364.25 448.56,364.22 449.28,364.19 450.00,364.16 450.72,364.12 451.43,364.09 452.15,364.06 452.87,364.02 453.59,363.98 454.31,363.95 455.02,363.91 455.74,363.87 456.46,363.82 457.18,363.78 457.90,363.74 458.62,363.69 459.33,363.64 460.05,363.60 460.77,363.55 461.49,363.49 462.21,363.44 462.93,363.39 463.64,363.33 464.36,363.27 465.08,363.21 465.80,363.15 466.52,363.08 467.24,363.02 467.95,362.95 468.67,362.88 469.39,362.81 470.11,362.73 470.83,362.66 471.55,362.58 472.26,362.50 472.98,362.41 473.70,362.33 474.42,362.24 475.14,362.15 475.86,362.06 476.57,361.96 477.29,361.86 478.01,361.76 478.73,361.66 479.45,361.55 480.17,361.44 480.88,361.33 481.60,361.21 482.32,361.09 483.04,360.97 483.76,360.84 484.47,360.71 485.19,360.58 485.91,360.45 486.63,360.31 487.35,360.17 488.07,360.02 488.78,359.87 489.50,359.72 490.22,359.57 490.94,359.41 491.66,359.24 492.38,359.07 493.09,358.90 493.81,358.73 494.53,358.55 495.25,358.37 495.97,358.18 496.69,357.99 497.40,357.79 498.12,357.60 498.84,357.39 499.56,357.18 500.28,356.97 501.00,356.76 501.71,356.53 502.43,356.31 503.15,356.08 503.87,355.84 504.59,355.60 505.31,355.36 506.02,355.11 506.74,354.85 507.46,354.59 508.18,354.33 508.90,354.05 509.62,353.78 510.33,353.49 511.05,353.20 511.77,352.91 512.49,352.60 513.21,352.30 513.93,351.98 514.64,351.66 515.36,351.32 516.08,350.99 516.80,350.64 517.52,350.28 518.23,349.92 518.95,349.55 519.67,349.16 520.39,348.77 521.11,348.37 521.83,347.96 522.54,347.53 523.26,347.10 523.98,346.65 524.70,346.19 525.42,345.72 526.14,345.23 526.85,344.73 527.57,344.21 528.29,343.68 529.01,343.14 529.73,342.58 530.45,342.00 531.16,341.41 531.88,340.80 532.60,340.17 533.32,339.52 534.04,338.86 534.76,338.17 535.47,337.46 536.19,336.74 536.91,335.99 537.63,335.22 538.35,334.43 539.07,333.62 539.78,332.78 540.50,331.92 541.22,331.04 541.94,330.13 542.66,329.20 543.38,328.24 544.09,327.26 544.81,326.25 545.53,325.22 546.25,324.16 546.97,323.07 547.68,321.95 548.40,320.81 549.12,319.64 549.84,318.44 550.56,317.22 551.28,315.96 551.99,314.68 552.71,313.37 553.43,312.03 554.15,310.66 554.87,309.27 555.59,307.84 556.30,306.39 557.02,304.91 557.74,303.41 558.46,301.88 559.18,300.32 559.90,298.73 560.61,297.13 561.33,295.50 562.05,293.84 562.77,292.17 563.49,290.47 564.21,288.75 564.92,287.02 565.64,285.27 566.36,283.50 567.08,281.73 567.80,279.94 568.52,278.14 569.23,276.33 569.95,274.52 570.67,272.71 571.39,270.90 572.11,269.09 572.83,267.28 573.54,265.49 574.26,263.70 574.98,261.94 575.70,260.19 576.42,258.46 577.14,256.76 577.85,255.09 578.57,253.45 579.29,251.85 580.01,250.29 580.73,248.78 581.44,247.32 582.16,245.91 582.88,244.55 583.60,243.26 584.32,242.04 585.04,240.89 585.75,239.81 586.47,238.81 587.19,237.89 587.91,237.06 588.63,236.32 589.35,235.67 590.06,235.12 590.78,234.67 591.50,234.32 592.22,234.08 592.94,233.94 593.66,233.91 594.37,234.00 595.09,234.19 595.81,234.50 596.53,234.92 597.25,235.45 597.97,236.10 598.68,236.86 599.40,237.73 600.12,238.71 600.84,239.80 601.56,241.00 602.28,242.30 602.99,243.70 603.71,245.21 604.43,246.80 605.15,248.49 605.87,250.27 606.59,252.13 607.30,254.07 608.02,256.08 608.74,258.17 609.46,260.32 610.18,262.53 610.89,264.80 611.61,267.12 612.33,269.49 613.05,271.90 613.77,274.35 614.49,276.83 615.20,279.35 615.92,281.88 616.64,284.44 617.36,287.01 618.08,289.59 618.80,292.18 619.51,294.77 620.23,297.36 620.95,299.94 621.67,302.51 622.39,305.07 623.11,307.61 623.82,310.13 624.54,312.62 625.26,315.08 625.98,317.50 626.70,319.89 627.42,322.23 628.13,324.53 628.85,326.79 629.57,328.99 630.29,331.13 631.01,333.22 631.73,335.24 632.44,337.20 633.16,339.09 633.88,340.92 634.60,342.67 635.32,344.36 636.04,345.97 636.75,347.50 637.47,348.96 638.19,350.34 638.91,351.65 639.63,352.88 640.35,354.04 641.06,355.12 641.78,356.13 642.50,357.06" fill="none" stroke="#00ff00" stroke-width="2.7" stroke-linejoin="round"/>
<polyline points="355.90,365.10 356.62,365.10 357.34,365.10 358.05,365.10 358.77,365.10 359.49,365.10 360.21,365.10 360.93,365.10 361.65,365.10 362.36,365.10 363.08,365.10 363.80,365.10 364.52,365.10 365.24,365.10 365.96,365.10 366.67,365.10 367.39,365.10 368.11,365.10 368.83,365.10 369.55,365.10 370.27,365.10 370.98,365.10 371.70,365.10 372.42,365.10 373.14,365.10 373.86,365.10 374.58,365.10 375.29,365.10 376.01,365.10 376.73,365.10 377.45,365.10 378.17,365.10 378.89,365.10 379.60,365.10 380.32,365.10 381.04,365.10 381.76,365.10 382.48,365.10 383.20,365.10 383.91,365.10 384.63,365.10 385.35,365.10 386.07,365.10 386.79,365.10 387.51,365.10 388.22,365.10 388.94,365.10 389.66,365.10 390.38,365.10 391.10,365.10 391.81,365.10 392.53,365.10 393.25,365.10 393.97,365.10 394.69,365.10 395.41,365.10 396.12,365.10 396.84,365.10 397.56,365.10 398.28,365.10 399.00,365.10 399.72,365.10 400.43,365.10 401.15,365.10 401.87,365.10 402.59,365.10 403.31,365.10 404.03,365.10 404.74,365.10 405.46,365.10 406.18,365.10 406.90,365.10 407.62,365.10 408.34,365.10 409.05,365.10 409.77,365.10 410.49,365.10 411.21,365.10 411.93,365.10 412.65,365.10 413.36,365.10 414.08,365.10 414.80,365.10 415.52,365.10 416.24,365.10 416.96,365.10 417.67,365.10 418.39,365.10 419.11,365.10 419.83,365.10 420.55,365.10 421.26,365.10 421.98,365.10 422.70,365.10 423.42,365.10 424.14,365.10 424.86,365.10 425.57,365.10 426.29,365.10 427.01,365.10 427.73,365.10 428.45,365.10 429.17,365.10 429.88,365.10 430.60,365.10 431.32,365.09 432.04,365.09 432.76,365.09 433.48,365.09 434.19,365.09 434.91,365.09 435.63,365.09 436.35,365.09 437.07,365.09 437.79,365.09 438.50,365.09 439.22,365.09 439.94,365.09 440.66,365.09 441.38,365.09 442.10,365.09 442.81,365.08 443.53,365.08 444.25,365.08 444.97,365.08 445.69,365.08 446.41,365.08 447.12,365.08 447.84,365.07 448.56,365.07 449.28,365.07 450.00,365.07 450.72,365.07 451.43,365.06 452.15,365.06 452.87,365.06 453.59,365.06 454.31,365.05 455.02,365.05 455.74,365.05 456.46,365.04 457.18,365.04 457.90,365.03 458.62,365.03 459.33,365.02 460.05,365.02 460.77,365.01 461.49,365.01 462.21,365.00 462.93,364.99 463.64,364.99 464.36,364.98 465.08,364.97 465.80,364.96 466.52,364.95 467.24,364.94 467.95,364.93 468.67,364.92 469.39,364.91 470.11,364.89 470.83,364.88 471.55,364.86 472.26,364.85 472.98,364.83 473.70,364.81 474.42,364.79 475.14,364.77 475.86,364.75 476.57,364.73 477.29,364.70 478.01,364.67 478.73,364.65 479.45,364.62 480.17,364.58 480.88,364.55 481.60,364.51 482.32,364.47 483.04,364.43 483.76,364.39 484.47,364.34 485.19,364.29 485.91,364.24 486.63,364.19 487.35,364.13 488.07,364.06 488.78,364.00 489.50,363.93 490.22,363.85 490.94,363.77 491.66,363.69 492.38,363.60 493.09,363.51 493.81,363.41 494.53,363.31 495.25,363.19 495.97,363.08 496.69,362.95 497.40,362.82 498.12,362.69 498.84,362.54 499.56,362.39 500.28,362.22 501.00,362.05 501.71,361.87 502.43,361.69 503.15,361.49 503.87,361.28 504.59,361.06 505.31,360.83 506.02,360.59 506.74,360.33 507.46,360.06 508.18,359.78 508.90,359.49 509.62,359.18 510.33,358.86 511.05,358.52 511.77,358.17 512.49,357.80 513.21,357.41 513.93,357.01 514.64,356.59 515.36,356.15 516.08,355.69 516.80,355.21 517.52,354.71 518.23,354.19 518.95,353.65 519.67,353.08 520.39,352.50 521.11,351.88 521.83,351.25 522.54,350.59 523.26,349.90 523.98,349.18 524.70,348.44 525.42,347.66 526.14,346.86 526.85,346.03 527.57,345.16 528.29,344.26 529.01,343.33 529.73,342.36 530.45,341.35 531.16,340.31 531.88,339.22 532.60,338.10 533.32,336.93 534.04,335.72 534.76,334.46 535.47,333.16 536.19,331.81 536.91,330.40 537.63,328.95 538.35,327.44 539.07,325.87 539.78,324.24 540.50,322.55 541.22,320.80 541.94,318.98 542.66,317.09 543.38,315.13 544.09,313.10 544.81,310.99 545.53,308.80 546.25,306.52 546.97,304.16 547.68,301.71 548.40,299.16 549.12,296.52 549.84,293.77 550.56,290.92 551.28,287.96 551.99,284.89 552.71,281.69 553.43,278.38 554.15,274.93 554.87,271.35 555.59,267.63 556.30,263.77 557.02,259.76 557.74,255.59 558.46,251.26 559.18,246.76 559.90,242.08 560.61,237.22 561.33,232.18 562.05,226.93 562.77,221.48 563.49,215.82 564.21,209.94 564.92,203.82 565.64,197.47 566.36,190.87 567.08,190.80 567.80,190.80 568.52,190.80 569.23,190.80 569.95,190.80 570.67,190.80 571.39,190.80 572.11,190.80 572.83,190.80 573.54,190.80 574.26,190.80 574.98,190.80 575.70,190.80 576.42,190.80 577.14,190.80 577.85,190.80 578.57,190.80 579.29,190.80 580.01,190.80 580.73,190.80 581.44,190.80 582.16,190.80 582.88,190.80 583.60,190.80 584.32,190.80 585.04,190.80 585.75,190.80 586.47,190.80 587.19,190.80 587.91,190.80 588.63,190.80 589.35,190.80 590.06,190.80 590.78,190.80 591.50,190.80 592.22,190.80 592.94,190.80 593.66,190.80 594.37,190.80 595.09,190.80 595.81,190.80 596.53,190.80 597.25,190.80 597.97,190.80 598.68,190.80 599.40,190.80 600.12,190.80 600.84,190.80 601.56,190.80 602.28,190.80 602.99,190.80 603.71,190.80 604.43,190.80 605.15,190.80 605.87,190.80 606.59,190.80 607.30,190.80 608.02,190.80 608.74,190.80 609.46,190.80 610.18,190.80 610.89,190.80 611.61,190.80 612.33,190.80 613.05,190.80 613.77,190.80 614.49,190.80 615.20,190.80 615.92,190.80 616.64,190.80 617.36,190.80 618.08,190.80 618.80,190.80 619.51,190.80 620.23,190.80 620.95,190.80 621.67,190.80 622.39,190.80 623.11,190.80 623.82,190.80 624.54,190.80 625.26,190.80 625.98,190.80 626.70,190.80 627.42,190.80 628.13,190.80 628.85,190.80 629.57,190.80 630.29,190.80 631.01,190.80 631.73,190.80 632.44,190.80 633.16,190.80 633.88,190.80 634.60,190.80 635.32,190.80 636.04,190.80 636.75,190.80 637.47,190.80 638.19,190.80 638.91,190.80 639.63,190.80 640.35,190.80 641.06,190.80 641.78,190.80 642.50,190.80" fill="none" stroke="#ff0000" stroke-width="2.7" stroke-linejoin="round"/>
<polyline points="355.90,365.09 356.62,365.09 357.34,365.09 358.05,365.09 358.77,365.09 359.49,365.09 360.21,365.09 360.93,365.09 361.65,365.09 362.36,365.09 363.08,365.09 363.80,365.08 364.52,365.08 365.24,365.08 365.96,365.08 366.67,365.08 367.39,365.08 368.11,365.08 368.83,365.08 369.55,365.08 370.27,365.08 370.98,365.08 371.70,365.08 372.42,365.08 373.14,365.08 373.86,365.08 374.58,365.07 375.29,365.07 376.01,365.07 376.73,365.07 377.45,365.07 378.17,365.07 378.89,365.07 379.60,365.07 380.32,365.07 381.04,365.06 381.76,365.06 382.48,365.06 383.20,365.06 383.91,365.06 384.63,365.06 385.35,365.06 386.07,365.06 386.79,365.05 387.51,365.05 388.22,365.05 388.94,365.05 389.66,365.05 390.38,365.04 391.10,365.04 391.81,365.04 392.53,365.04 393.25,365.04 393.97,365.03 394.69,365.03 395.41,365.03 396.12,365.03 396.84,365.02 397.56,365.02 398.28,365.02 399.00,365.02 399.72,365.01 400.43,365.01 401.15,365.01 401.87,365.00 402.59,365.00 403.31,365.00 404.03,364.99 404.74,364.99 405.46,364.99 406.18,364.98 406.90,364.98 407.62,364.97 408.34,364.97 409.05,364.96 409.77,364.96 410.49,364.95 411.21,364.95 411.93,364.94 412.65,364.94 413.36,364.93 414.08,364.93 414.80,364.92 415.52,364.91 416.24,364.91 416.96,364.90 417.67,364.89 418.39,364.89 419.11,364.88 419.83,364.87 420.55,364.86 421.26,364.86 421.98,364.85 422.70,364.84 423.42,364.83 424.14,364.82 424.86,364.81 425.57,364.80 426.29,364.79 427.01,364.78 427.73,364.77 428.45,364.75 429.17,364.74 429.88,364.73 430.60,364.72 431.32,364.70 432.04,364.69 432.76,364.67 433.48,364.66 434.19,364.64 434.91,364.63 435.63,364.61 436.35,364.59 437.07,364.58 437.79,364.56 438.50,364.54 439.22,364.52 439.94,364.50 440.66,364.48 441.38,364.46 442.10,364.43 442.81,364.41 443.53,364.39 444.25,364.36 444.97,364.33 445.69,364.31 446.41,364.28 447.12,364.25 447.84,364.22 448.56,364.19 449.28,364.16 450.00,364.12 450.72,364.09 451.43,364.05 452.15,364.02 452.87,363.98 453.59,363.94 454.31,363.90 455.02,363.86 455.74,363.81 456.46,363.77 457.18,363.72 457.90,363.67 458.62,363.62 459.33,363.57 460.05,363.51 460.77,363.46 461.49,363.40 462.21,363.34 462.93,363.28 463.64,363.22 464.36,363.15 465.08,363.08 465.80,363.01 466.52,362.94 467.24,362.86 467.95,362.78 468.67,362.70 469.39,362.61 470.11,362.53 470.83,362.44 471.55,362.34 472.26,362.24 472.98,362.14 473.70,362.04 474.42,361.93 475.14,361.82 475.86,361.71 476.57,361.59 477.29,361.46 478.01,361.33 478.73,361.20 479.45,361.06 480.17,360.92 480.88,360.78 481.60,360.62 482.32,360.47 483.04,360.30 483.76,360.13 484.47,359.96 485.19,359.78 485.91,359.59 486.63,359.40 487.35,359.20 488.07,358.99 488.78,358.77 489.50,358.55 490.22,358.32 490.94,358.08 491.66,357.83 492.38,357.58 493.09,357.31 493.81,357.04 494.53,356.76 495.25,356.46 495.97,356.16 496.69,355.84 497.40,355.52 498.12,355.18 498.84,354.83 499.56,354.47 500.28,354.10 501.00,353.71 501.71,353.31 502.43,352.89 503.15,352.46 503.87,352.02 504.59,351.56 505.31,351.08 506.02,350.59 506.74,350.08 507.46,349.55 508.18,349.01 508.90,348.44 509.62,347.86 510.33,347.25 511.05,346.62 511.77,345.98 512.49,345.30 513.21,344.61 513.93,343.89 514.64,343.14 515.36,342.37 516.08,341.58 516.80,340.75 517.52,339.90 518.23,339.01 518.95,338.10 519.67,337.15 520.39,336.17 521.11,335.15 521.83,334.10 522.54,333.02 523.26,331.89 523.98,330.73 524.70,329.52 525.42,328.28 526.14,326.99 526.85,325.65 527.57,324.27 528.29,322.84 529.01,321.37 529.73,319.84 530.45,318.25 531.16,316.61 531.88,314.92 532.60,313.17 533.32,311.35 534.04,309.47 534.76,307.53 535.47,305.52 536.19,303.44 536.91,301.29 537.63,299.07 538.35,296.77 539.07,294.39 539.78,291.92 540.50,289.37 541.22,286.74 541.94,284.01 542.66,281.19 543.38,278.28 544.09,275.26 544.81,272.14 545.53,268.92 546.25,265.58 546.97,262.13 547.68,258.56 548.40,254.88 549.12,251.06 549.84,247.12 550.56,243.04 551.28,238.83 551.99,234.47 552.71,229.96 553.43,225.31 554.15,220.49 554.87,215.52 555.59,210.38 556.30,205.06 557.02,199.57 557.74,193.90 558.46,190.80 559.18,190.80 559.90,190.80 560.61,190.80 561.33,190.80 562.05,190.80 562.77,190.80 563.49,190.80 564.21,190.80 564.92,190.80 565.64,190.80 566.36,190.80 567.08,190.80 567.80,190.80 568.52,190.80 569.23,190.80 569.95,190.80 570.67,190.80 571.39,190.80 572.11,190.80 572.83,190.80 573.54,190.80 574.26,190.80 574.98,190.80 575.70,190.80 576.42,190.80 577.14,190.80 577.85,190.80 578.57,190.80 579.29,190.80 580.01,190.80 580.73,190.80 581.44,190.80 582.16,190.80 582.88,190.80 583.60,190.80 584.32,190.80 585.04,190.80 585.75,190.80 586.47,190.80 587.19,190.80 587.91,190.80 588.63,190.80 589.35,190.80 590.06,190.80 590.78,190.80 591.50,190.80 592.22,190.80 592.94,190.80 593.66,190.80 594.37,190.80 595.09,190.80 595.81,190.80 596.53,190.80 597.25,190.80 597.97,190.80 598.68,190.80 599.40,190.80 600.12,190.80 600.84,190.80 601.56,190.80 602.28,190.80 602.99,190.80 603.71,190.80 604.43,190.80 605.15,190.80 605.87,190.80 606.59,190.80 607.30,190.80 608.02,190.80 608.74,190.80 609.46,190.80 610.18,190.80 610.89,190.80 611.61,190.80 612.33,190.80 613.05,190.80 613.77,190.80 614.49,190.80 615.20,190.80 615.92,190.80 616.64,190.80 617.36,190.80 618.08,190.80 618.80,190.80 619.51,190.80 620.23,190.80 620.95,190.80 621.67,190.80 622.39,190.80 623.11,190.80 623.82,190.80 624.54,190.80 625.26,190.80 625.98,190.80 626.70,190.80 627.42,190.80 628.13,190.80 628.85,190.80 629.57,190.80 630.29,190.80 631.01,190.80 631.73,190.80 632.44,190.80 633.16,190.80 633.88,190.80 634.60,190.80 635.32,190.80 636.04,190.80 636.75,190.80 637.47,190.80 638.19,190.80 638.91,190.80 639.63,190.80 640.35,190.80 641.06,190.80 641.78,190.80 642.50,190.80" fill="none" stroke="#ff00ff" stroke-width="2.7" stroke-linejoin="round"/>
</svg>
<text x="348.51" y="376.80" style="font-family:&quot;Liberation Sans&quot;,sans-serif;stroke:#000;stroke-width:0.22px;font-size:8.00px"> 0</text><path transform="translate(348.51 376.80) scale(0.003906 -0.003906)" d="M515 0V1237L197 1010V1180L530 1409H696V0Z" stroke="#000" stroke-width="56.3"/><text x="357.11" y="372.20" style="font-family:&quot;Liberation Sans&quot;,sans-serif;stroke:#000;stroke-width:0.22px;font-size:5.60px">−2</text>
<text x="396.28" y="376.80" style="font-family:&quot;Liberation Sans&quot;,sans-serif;stroke:#000;stroke-width:0.22px;font-size:8.00px"> 0</text><path transform="translate(396.28 376.80) scale(0.003906 -0.003906)" d="M515 0V1237L197 1010V1180L530 1409H696V0Z" stroke="#000" stroke-width="56.3"/><text x="404.87" y="372.20" style="font-family:&quot;Liberation Sans&quot;,sans-serif;stroke:#000;stroke-width:0.22px;font-size:5.60px">− </text><path transform="translate(408.14 372.20) scale(0.002734 -0.002734)" d="M515 0V1237L197 1010V1180L530 1409H696V0Z" stroke="#000" stroke-width="80.5"/>
<text x="445.68" y="376.80" style="font-family:&quot;Liberation Sans&quot;,sans-serif;stroke:#000;stroke-width:0.22px;font-size:8.00px"> 0</text><path transform="translate(445.68 376.80) scale(0.003906 -0.003906)" d="M515 0V1237L197 1010V1180L530 1409H696V0Z" stroke="#000" stroke-width="56.3"/><text x="454.28" y="372.20" style="font-family:&quot;Liberation Sans&quot;,sans-serif;stroke:#000;stroke-width:0.22px;font-size:5.60px">0</text>
<text x="493.44" y="376.80" style="font-family:&quot;Liberation Sans&quot;,sans-serif;stroke:#000;stroke-width:0.22px;font-size:8.00px"> 0</text><path transform="translate(493.44 376.80) scale(0.003906 -0.003906)" d="M515 0V1237L197 1010V1180L530 1409H696V0Z" stroke="#000" stroke-width="56.3"/><path transform="translate(502.04 372.20) scale(0.002734 -0.002734)" d="M515 0V1237L197 1010V1180L530 1409H696V0Z" stroke="#000" stroke-width="80.5"/>
<text x="541.21" y="376.80" style="font-family:&quot;Liberation Sans&quot;,sans-serif;stroke:#000;stroke-width:0.22px;font-size:8.00px"> 0</text><path transform="translate(541.21 376.80) scale(0.003906 -0.003906)" d="M515 0V1237L197 1010V1180L530 1409H696V0Z" stroke="#000" stroke-width="56.3"/><text x="549.81" y="372.20" style="font-family:&quot;Liberation Sans&quot;,sans-serif;stroke:#000;stroke-width:0.22px;font-size:5.60px">2</text>
<text x="588.98" y="376.80" style="font-family:&quot;Liberation Sans&quot;,sans-serif;stroke:#000;stroke-width:0.22px;font-size:8.00px"> 0</text><path transform="translate(588.98 376.80) scale(0.003906 -0.003906)" d="M515 0V1237L197 1010V1180L530 1409H696V0Z" stroke="#000" stroke-width="56.3"/><text x="597.58" y="372.20" style="font-family:&quot;Liberation Sans&quot;,sans-serif;stroke:#000;stroke-width:0.22px;font-size:5.60px">3</text>
<text x="636.74" y="376.80" style="font-family:&quot;Liberation Sans&quot;,sans-serif;stroke:#000;stroke-width:0.22px;font-size:8.00px"> 0</text><path transform="translate(636.74 376.80) scale(0.003906 -0.003906)" d="M515 0V1237L197 1010V1180L530 1409H696V0Z" stroke="#000" stroke-width="56.3"/><text x="645.34" y="372.20" style="font-family:&quot;Liberation Sans&quot;,sans-serif;stroke:#000;stroke-width:0.22px;font-size:5.60px">4</text>
<text x="348.65" y="368.20" style="font-family:&quot;Liberation Sans&quot;,sans-serif;stroke:#000;stroke-width:0.22px;font-size:8.00px">0</text>
<text x="341.98" y="342.49" style="font-family:&quot;Liberation Sans&quot;,sans-serif;stroke:#000;stroke-width:0.22px;font-size:8.00px">0.5</text>
<path transform="translate(348.65 316.77) scale(0.003906 -0.003906)" d="M515 0V1237L197 1010V1180L530 1409H696V0Z" stroke="#000" stroke-width="56.3"/>
<text x="341.98" y="291.06" style="font-family:&quot;Liberation Sans&quot;,sans-serif;stroke:#000;stroke-width:0.22px;font-size:8.00px"> .5</text><path transform="translate(341.98 291.06) scale(0.003906 -0.003906)" d="M515 0V1237L197 1010V1180L530 1409H696V0Z" stroke="#000" stroke-width="56.3"/>
<text x="348.65" y="265.34" style="font-family:&quot;Liberation Sans&quot;,sans-serif;stroke:#000;stroke-width:0.22px;font-size:8.00px">2</text>
<text x="341.98" y="239.63" style="font-family:&quot;Liberation Sans&quot;,sans-serif;stroke:#000;stroke-width:0.22px;font-size:8.00px">2.5</text>
<text x="356.00" y="208.00" style="font-family:&quot;Liberation Sans&quot;,sans-serif;stroke:#000;stroke-width:0.22px;font-size:7.70px">x  0</text><path transform="translate(361.99 208.00) scale(0.003760 -0.003760)" d="M515 0V1237L197 1010V1180L530 1409H696V0Z" stroke="#000" stroke-width="58.5"/><text x="370.55" y="203.30" style="font-family:&quot;Liberation Sans&quot;,sans-serif;stroke:#000;stroke-width:0.22px;font-size:5.40px">−9</text>
<text x="499.20" y="204.80" text-anchor="middle" style="font-family:&quot;Liberation Serif&quot;,serif;stroke:#000;stroke-width:0.32px;font-size:9.6px">SF6</text>
<text x="499.20" y="387.40" text-anchor="middle" style="font-family:&quot;Liberation Serif&quot;,serif;stroke:#000;stroke-width:0.32px;font-size:9.6px">Time–Horizon (years)</text>
<text transform="translate(337.50 287.95) rotate(-90)" text-anchor="middle" style="font-family:&quot;Liberation Serif&quot;,serif;stroke:#000;stroke-width:0.32px;font-size:9.6px">Absolute metric (Wm<tspan dy="-4.1" style="font-size:6.6px">−2</tspan><tspan dy="4.1">yr)</tspan></text>
<rect x="32.5" y="214.8" width="64" height="45.5" fill="#fff" stroke="#222" stroke-width="1"/>
<line x1="37" y1="222.7" x2="60.5" y2="222.7" stroke="#0000ff" stroke-width="2.8"/>
<text x="62.60" y="224.10" style="font-family:&quot;Liberation Sans&quot;,sans-serif;stroke:#000;stroke-width:0.22px;font-size:7.90px">c</text><path transform="translate(66.55 226.70) scale(0.002734 -0.002734)" d="M515 0V1237L197 1010V1180L530 1409H696V0Z" stroke="#000" stroke-width="80.5"/><text x="69.66" y="224.10" style="font-family:&quot;Liberation Sans&quot;,sans-serif;stroke:#000;stroke-width:0.22px;font-size:7.90px">.AGTP</text>
<line x1="37" y1="234.0" x2="60.5" y2="234.0" stroke="#00ff00" stroke-width="2.8"/>
<text x="62.6" y="237.0" style="font-family:&quot;Liberation Sans&quot;,sans-serif;stroke:#000;stroke-width:0.22px;font-size:7.9px">AOHP</text>
<line x1="37" y1="244.6" x2="60.5" y2="244.6" stroke="#ff0000" stroke-width="2.8"/>
<text x="62.6" y="247.6" style="font-family:&quot;Liberation Sans&quot;,sans-serif;stroke:#000;stroke-width:0.22px;font-size:7.9px">iAGTP/λ</text>
<line x1="37" y1="254.5" x2="60.5" y2="254.5" stroke="#ff00ff" stroke-width="2.8"/>
<text x="62.6" y="257.5" style="font-family:&quot;Liberation Sans&quot;,sans-serif;stroke:#000;stroke-width:0.22px;font-size:7.9px">AGWP</text>
</svg></body></html>
